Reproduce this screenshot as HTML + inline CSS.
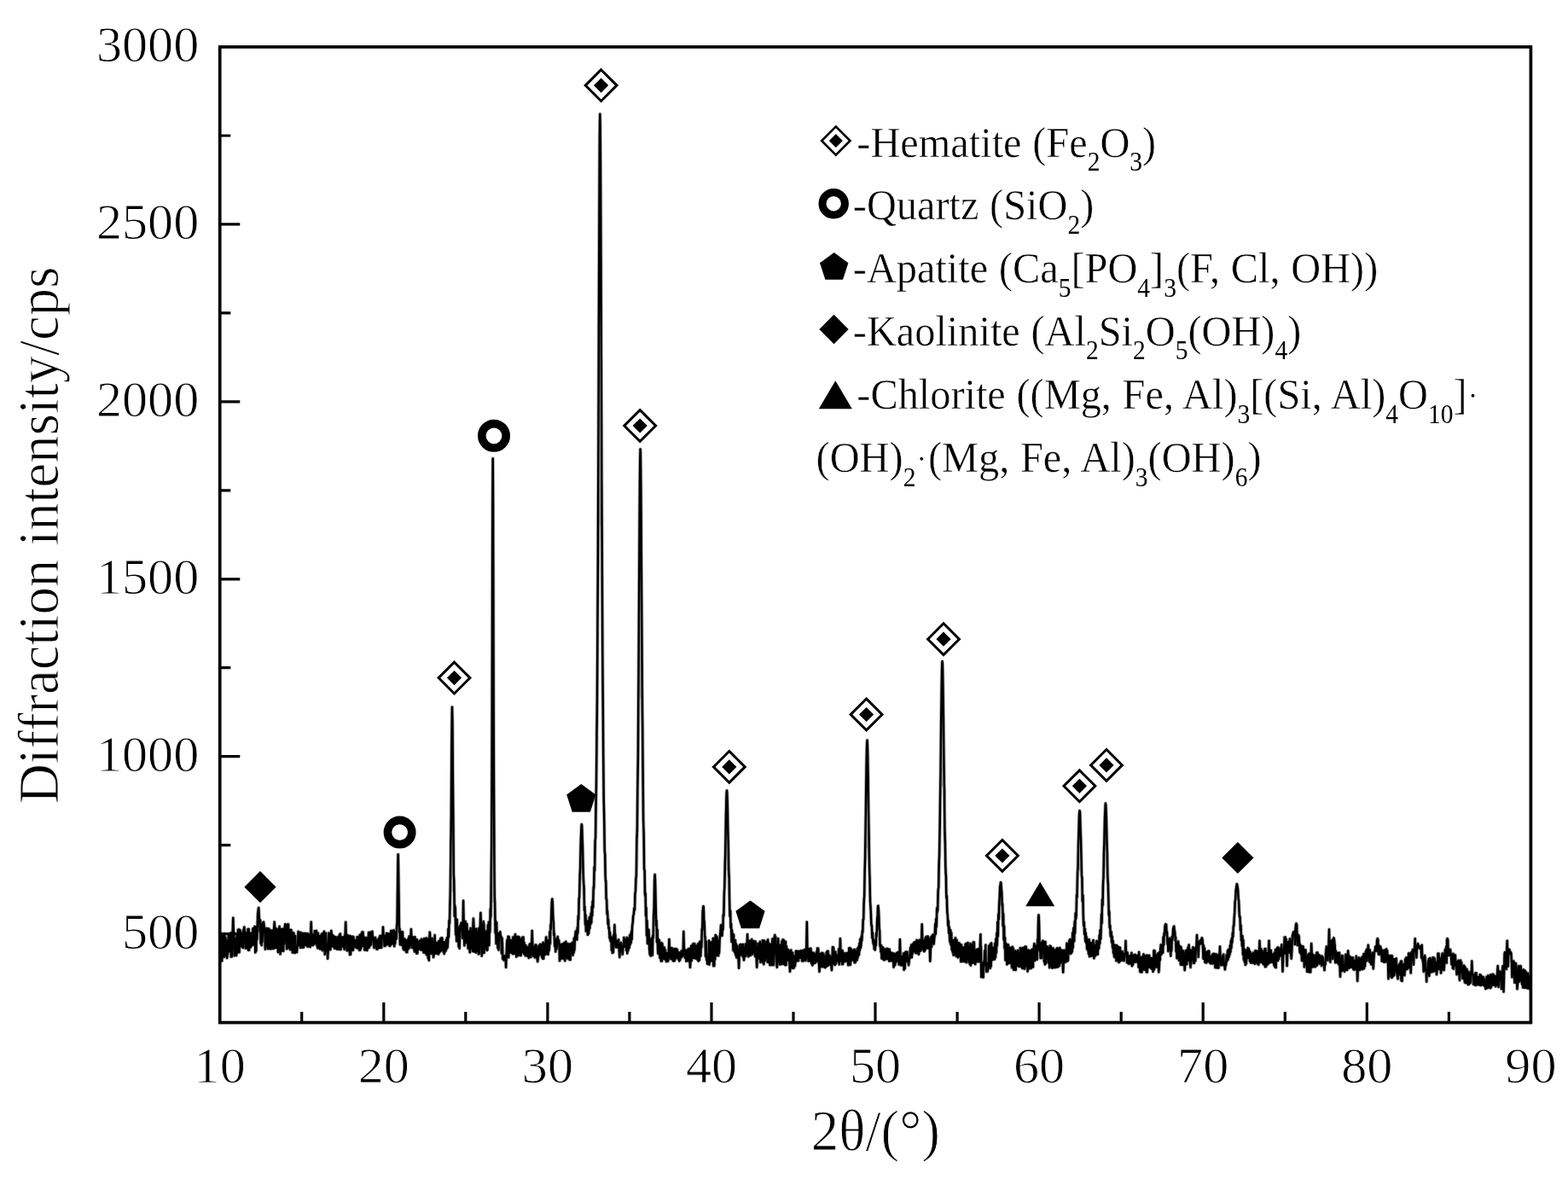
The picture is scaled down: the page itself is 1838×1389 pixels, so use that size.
<!DOCTYPE html>
<html lang="en">
<head>
<meta charset="utf-8">
<title>XRD pattern</title>
<style>
html,body{margin:0;padding:0;background:#fff;}
body{width:1838px;height:1389px;overflow:hidden;font-family:"Liberation Serif",serif;}
svg{display:block;}
</style>
</head>
<body>
<svg width="1838" height="1389" viewBox="0 0 1838 1389" role="img" aria-label="XRD pattern">
<rect x="0" y="0" width="1838" height="1389" fill="#fff"/>
<defs><filter id="soft" x="0" y="0" width="100%" height="100%" filterUnits="userSpaceOnUse" color-interpolation-filters="sRGB"><feGaussianBlur stdDeviation="0.75"/></filter></defs>
<g filter="url(#soft)">
<rect x="0" y="0" width="1838" height="1389" fill="#fff"/>
<path d="M527.7 1048.3 528.0 1034.7 528.2 1017.3 528.5 995.5 528.7 968.9 529.0 937.7 529.2 903.3 529.5 869.4 529.7 842.2 530.0 829.2 530.2 834.9 530.5 857.2 530.7 889.4 531.0 924.2 531.2 956.9 531.5 985.4 531.7 1009.1 532.0 1028.2 532.2 1043.2Z M575.4 1060.3 575.7 1046.7 575.9 1025.5 576.2 992.7 576.4 943.5 576.7 874.3 576.9 784.9 577.2 682.6 577.4 588.6 577.7 538.9 577.9 561.2 578.2 642.2 578.4 744.7 578.7 840.8 578.9 918.4 579.2 975.3 579.4 1014.1 579.7 1039.3 579.9 1055.6Z M701.0 628.5 701.2 569.9 701.5 506.2 701.8 438.6 702.0 368.9 702.2 300.6 702.5 237.7 702.8 185.6 703.0 149.7 703.2 134.1 703.5 140.8 703.8 169.0 704.0 215.3 704.2 274.5 704.5 341.2 704.8 410.8 705.0 479.5 705.2 545.0 705.5 605.7Z M748.3 824.7 748.6 789.4 748.8 751.0 749.1 710.2 749.3 668.3 749.6 627.1 749.8 589.2 750.1 557.9 750.3 536.2 750.6 526.8 750.8 530.8 751.1 547.9 751.3 575.7 751.6 611.4 751.8 651.6 752.1 693.5 752.3 734.9 752.6 774.4 752.8 811.0Z M849.7 1022.7 850.0 1011.3 850.2 998.9 850.5 985.8 850.7 972.3 851.0 959.1 851.2 946.9 851.5 936.8 851.7 929.8 852.0 926.8 852.2 928.1 852.5 933.6 852.7 942.5 853.0 954.0 853.2 967.0 853.5 980.4 853.7 993.8 854.0 1006.5 854.2 1018.2Z M1014.2 996.9 1014.5 981.6 1014.7 965.0 1015.0 947.3 1015.2 929.1 1015.5 911.3 1015.7 894.9 1016.0 881.3 1016.2 871.9 1016.5 867.8 1016.7 869.6 1017.0 876.9 1017.2 889.0 1017.5 904.5 1017.7 921.9 1018.0 940.0 1018.2 958.0 1018.5 975.1 1018.7 990.9Z M1102.3 925.3 1102.5 905.8 1102.8 885.1 1103.0 863.8 1103.3 842.6 1103.5 822.3 1103.8 804.2 1104.0 789.6 1104.3 779.7 1104.5 775.4 1104.8 777.3 1105.0 785.0 1105.3 797.9 1105.5 814.7 1105.8 834.3 1106.0 855.3 1106.3 876.7 1106.5 897.6 1106.8 917.7Z M1263.3 1021.7 1263.5 1012.3 1263.8 1002.4 1264.0 992.2 1264.3 982.0 1264.5 972.3 1264.8 963.7 1265.0 956.7 1265.3 952.0 1265.5 950.0 1265.8 950.8 1266.0 954.5 1266.3 960.7 1266.5 968.7 1266.8 978.1 1267.0 988.1 1267.3 998.4 1267.5 1008.4 1267.8 1018.0Z M1293.7 1018.5 1294.0 1008.5 1294.2 997.9 1294.5 987.0 1294.7 976.1 1295.0 965.7 1295.2 956.5 1295.5 949.1 1295.7 944.0 1296.0 941.9 1296.2 942.8 1296.5 946.7 1296.7 953.3 1297.0 961.9 1297.2 971.9 1297.5 982.6 1297.7 993.6 1298.0 1004.3 1298.2 1014.5Z" fill="#7d7d7d"/>
<g fill="none" stroke-linejoin="round" stroke-linecap="round">
<path d="M258.2 1122.7 258.7 1098.9 259.2 1126.4 259.7 1094.7 260.2 1126.2 260.7 1097.6 261.1 1097.0 261.6 1121.5 262.1 1099.6 262.6 1121.7 263.1 1094.4 263.6 1118.1 264.0 1116.1 264.5 1098.9 265.0 1120.5 265.5 1118.7 266.1 1122.9 266.6 1118.7 266.9 1102.3 267.4 1116.6 267.9 1094.8 268.4 1114.9 268.9 1095.0 269.4 1114.3 269.8 1114.5 270.3 1093.7 270.8 1121.4 271.3 1093.5 271.8 1121.3 272.3 1096.7 272.7 1092.3 273.3 1075.9 273.8 1092.4 274.2 1092.5 274.7 1120.3 275.2 1099.8 275.6 1101.8 276.1 1119.7 276.6 1100.8 277.1 1119.9 277.6 1097.0 278.1 1116.9 278.5 1114.7 279.0 1089.9 279.5 1116.3 280.0 1089.4 280.5 1116.2 281.0 1089.9 281.4 1108.5 281.9 1090.9 282.4 1108.4 282.9 1093.6 283.4 1109.8 283.9 1097.3 284.3 1098.4 284.8 1111.0 285.3 1090.0 285.7 1090.9 286.3 1086.7 286.8 1090.9 287.2 1095.0 287.7 1111.5 288.2 1095.8 288.7 1111.6 289.2 1093.2 289.7 1106.6 290.1 1110.7 290.6 1089.2 291.1 1113.8 291.6 1089.0 292.1 1113.6 292.6 1093.6 293.0 1105.6 293.5 1093.9 294.0 1110.1 294.5 1093.8 295.0 1108.3 295.5 1094.1 295.8 1102.3 295.9 1105.7 296.1 1099.7 296.4 1088.3 296.7 1098.9 296.9 1107.6 297.3 1092.2 297.6 1096.6 297.9 1107.0 298.2 1093.0 298.4 1086.1 298.5 1088.3 298.8 1092.7 299.1 1105.9 299.3 1116.5 299.7 1093.7 300.0 1098.0 300.3 1114.6 300.6 1096.4 300.8 1086.0 300.9 1090.4 301.2 1101.1 301.5 1094.7 301.7 1086.5 302.1 1074.4 302.2 1070.9 302.4 1070.1 302.7 1067.2 303.0 1064.5 303.2 1064.1 303.6 1072.8 303.9 1077.7 304.2 1078.1 304.5 1087.8 304.6 1092.2 304.8 1087.8 305.1 1078.6 305.4 1093.9 305.6 1105.8 306.0 1086.3 306.3 1093.1 306.6 1107.9 306.9 1091.4 307.1 1083.3 307.2 1089.8 307.5 1103.8 307.8 1092.8 308.0 1081.6 308.4 1084.7 308.7 1083.4 309.0 1080.8 309.3 1083.1 309.6 1085.7 309.9 1091.7 310.4 1093.9 310.9 1112.6 311.4 1092.1 311.9 1109.1 312.4 1088.0 312.9 1106.4 313.3 1091.9 313.8 1111.9 314.3 1088.6 314.8 1112.0 315.3 1088.7 315.8 1105.5 316.2 1095.0 316.7 1112.1 317.2 1090.6 317.7 1112.2 318.2 1090.7 318.7 1109.9 319.1 1095.0 319.6 1111.8 320.1 1090.2 320.6 1111.9 321.1 1089.3 321.7 1080.8 322.2 1089.3 323.0 1110.9 323.5 1088.2 324.0 1110.8 324.5 1093.7 324.9 1108.8 325.4 1089.5 325.9 1116.0 326.4 1089.3 327.0 1090.1 327.6 1085.9 327.9 1111.8 328.1 1090.6 328.5 1118.3 329.0 1112.2 329.8 1089.1 330.3 1110.5 330.7 1090.0 331.2 1114.6 331.7 1088.8 332.2 1114.8 332.7 1088.9 333.2 1106.5 333.8 1087.6 334.3 1083.3 334.9 1087.6 335.6 1093.5 336.1 1112.3 336.5 1105.8 337.0 1083.6 337.5 1110.9 338.0 1083.4 338.5 1110.8 339.0 1090.8 339.4 1093.9 339.9 1112.9 340.4 1090.0 340.9 1113.1 341.4 1090.1 341.9 1108.5 342.3 1093.9 342.8 1116.4 343.3 1093.4 343.8 1116.5 344.3 1093.5 344.8 1111.6 345.2 1098.9 345.7 1116.9 346.2 1097.1 346.7 1115.8 347.3 1110.4 347.9 1116.2 348.4 1110.4 349.1 1107.7 349.6 1091.9 350.1 1107.8 350.6 1095.9 351.0 1107.4 351.5 1093.1 352.0 1110.8 352.5 1092.9 353.0 1110.7 353.5 1097.6 353.9 1109.4 354.4 1094.0 354.9 1110.6 355.4 1093.9 355.9 1110.5 356.4 1098.1 356.8 1105.1 357.3 1094.1 357.8 1107.9 358.3 1094.0 358.8 1107.8 359.3 1095.3 359.7 1097.0 360.2 1109.4 360.7 1094.2 361.2 1109.5 361.7 1096.8 362.2 1108.0 362.6 1108.0 363.1 1094.9 363.6 1110.0 364.1 1096.3 364.7 1080.8 365.2 1096.3 365.5 1097.5 366.0 1108.0 366.5 1095.3 367.0 1108.0 367.5 1097.1 368.0 1106.8 368.4 1105.1 368.9 1091.3 369.4 1105.8 369.9 1092.4 370.4 1106.3 370.9 1091.0 371.3 1108.2 371.8 1093.8 372.3 1111.3 372.8 1093.7 373.3 1111.2 373.8 1097.6 374.2 1109.6 374.7 1097.2 375.2 1112.4 375.7 1097.3 376.2 1112.2 376.7 1095.6 377.1 1107.1 377.6 1094.3 378.1 1114.1 378.6 1094.2 379.3 1096.0 379.9 1091.8 380.2 1112.1 380.4 1096.0 380.8 1118.7 381.3 1112.1 382.0 1093.8 382.5 1109.9 382.9 1114.3 383.6 1112.5 384.1 1123.7 384.7 1112.5 385.4 1093.7 385.8 1101.2 386.3 1113.1 386.8 1099.1 387.3 1113.2 387.8 1096.1 388.3 1091.0 388.9 1096.0 389.2 1109.4 389.7 1096.5 390.2 1109.5 390.7 1096.6 391.2 1107.0 391.6 1101.7 392.1 1111.6 392.6 1098.2 393.1 1111.7 393.6 1098.4 394.1 1111.7 394.5 1102.9 395.0 1112.6 395.5 1098.6 396.0 1112.7 396.5 1098.7 397.0 1109.2 397.4 1108.2 397.9 1095.7 398.4 1113.0 398.9 1094.5 399.4 1112.9 399.9 1098.2 400.3 1099.2 400.8 1109.3 401.3 1098.5 401.8 1108.9 402.3 1098.6 402.8 1110.4 403.2 1099.6 403.7 1112.8 404.2 1095.7 404.6 1097.9 405.2 1080.9 405.7 1098.0 406.1 1097.7 406.6 1114.1 407.1 1096.0 407.6 1114.3 408.1 1096.7 408.6 1113.1 409.0 1113.9 409.5 1097.1 410.0 1118.9 410.5 1097.0 411.0 1118.8 411.5 1102.5 411.9 1113.9 412.4 1097.9 412.9 1113.1 413.4 1097.8 413.9 1113.8 414.4 1098.2 414.8 1104.9 415.3 1110.1 415.8 1102.3 416.3 1110.2 416.8 1102.3 417.3 1108.0 417.7 1102.6 418.2 1111.2 418.7 1098.3 419.2 1111.3 419.7 1098.4 420.2 1108.6 420.6 1099.9 421.1 1113.6 421.6 1096.0 422.1 1113.7 422.6 1096.1 423.1 1111.7 423.5 1094.5 424.0 1108.9 424.5 1092.6 425.0 1109.0 425.5 1092.7 426.0 1107.0 426.4 1108.7 426.9 1098.5 427.4 1113.5 427.9 1100.5 428.4 1113.4 428.9 1099.4 429.3 1111.5 429.8 1099.2 430.3 1113.9 430.8 1101.6 431.3 1111.4 431.8 1099.3 432.2 1093.1 432.7 1110.7 433.2 1093.1 433.7 1108.5 434.2 1092.8 434.7 1107.6 435.1 1107.5 435.8 1100.1 436.4 1091.8 436.9 1100.0 437.6 1099.5 438.0 1102.0 438.5 1110.9 439.0 1098.9 439.5 1109.5 440.0 1099.0 440.5 1107.0 440.9 1102.6 441.4 1112.5 441.9 1101.9 442.4 1112.6 442.9 1101.5 443.4 1109.7 443.8 1110.9 444.3 1099.4 444.8 1110.9 445.3 1097.2 445.8 1110.8 446.3 1096.8 446.7 1096.9 447.2 1110.7 447.7 1097.4 448.5 1097.9 449.0 1086.7 449.6 1097.9 450.1 1098.5 450.6 1108.8 451.1 1096.9 451.6 1108.7 452.1 1098.5 452.5 1102.7 453.0 1094.0 453.5 1107.2 454.0 1094.0 454.5 1105.7 455.0 1094.6 455.4 1106.5 455.9 1094.6 456.4 1108.7 456.9 1096.4 457.4 1108.7 457.9 1097.2 458.3 1091.2 458.8 1106.4 459.3 1091.0 459.8 1106.5 460.3 1091.1 460.8 1106.1 461.2 1104.7 461.7 1090.4 462.2 1109.1 462.5 1099.4 462.7 1092.8 463.1 1106.3 463.4 1101.2 463.7 1092.5 464.0 1094.5 464.1 1095.3 464.3 1097.2 464.6 1100.4 464.9 1092.5 465.1 1085.0 465.5 1082.2 465.8 1062.6 466.1 1037.5 466.4 1012.9 466.6 1004.4 466.7 1001.6 467.0 1015.9 467.3 1039.1 467.5 1052.0 467.9 1086.3 468.2 1093.4 468.5 1088.6 468.8 1100.9 469.0 1107.1 469.1 1104.5 469.4 1097.4 469.7 1094.3 469.9 1092.4 470.3 1103.7 470.4 1107.5 470.6 1102.0 470.9 1092.3 471.4 1108.1 471.9 1092.4 472.4 1107.2 472.8 1112.7 473.3 1100.7 473.8 1113.4 474.3 1100.6 474.8 1113.3 475.3 1101.8 475.7 1105.4 476.2 1116.0 476.7 1102.4 477.2 1116.1 477.7 1101.9 478.2 1112.7 478.6 1100.5 479.1 1111.0 479.6 1097.5 480.1 1111.1 480.6 1097.6 481.1 1107.1 481.4 1100.4 481.9 1089.2 482.5 1100.4 483.0 1110.7 483.5 1098.3 484.0 1108.6 484.4 1100.9 484.9 1112.2 485.4 1098.6 485.9 1115.4 486.4 1098.3 486.9 1112.3 487.3 1115.3 487.8 1102.2 488.3 1117.5 488.8 1101.3 489.3 1117.4 489.8 1104.6 490.2 1105.4 490.7 1112.6 491.2 1103.5 491.7 1112.7 492.2 1102.4 492.7 1109.9 493.1 1102.2 493.6 1113.5 494.1 1100.7 494.6 1113.6 495.1 1101.9 495.6 1112.2 496.0 1102.7 496.5 1116.5 497.0 1100.3 497.5 1116.6 498.0 1100.4 498.5 1112.9 498.9 1117.1 499.4 1099.7 499.9 1119.1 500.4 1099.7 500.9 1119.0 501.4 1100.7 501.8 1123.3 502.3 1102.4 502.8 1125.6 503.3 1101.3 503.8 1092.7 504.4 1101.4 504.7 1100.9 505.2 1117.8 505.7 1101.5 506.2 1117.5 506.7 1099.9 507.2 1116.1 507.6 1116.9 508.1 1122.1 508.7 1116.9 509.1 1118.3 509.6 1096.2 510.1 1115.1 510.5 1105.3 511.0 1117.6 511.5 1106.5 512.0 1117.7 512.5 1104.8 513.0 1117.5 513.4 1107.9 513.9 1118.4 514.4 1103.0 514.9 1116.6 515.4 1103.1 515.9 1115.3 516.3 1100.2 516.8 1114.7 517.3 1099.4 517.8 1113.5 518.3 1099.5 518.8 1109.5 519.2 1104.7 519.7 1115.5 520.2 1104.3 520.7 1117.9 521.2 1104.4 521.7 1115.5 522.0 1109.9 522.1 1107.1 522.3 1109.4 522.6 1114.5 522.9 1108.1 523.1 1101.6 523.5 1112.2 523.8 1109.0 524.1 1099.1 524.4 1106.4 524.6 1110.7 524.7 1108.8 525.0 1103.9 525.3 1095.9 525.5 1088.7 525.9 1095.8 526.0 1098.1 526.2 1091.5 526.5 1079.0 526.8 1081.1 527.0 1082.1 527.4 1063.0 527.7 1051.2 527.9 1039.3 528.3 1006.0 528.4 989.9 528.6 980.4 528.9 953.1 529.2 906.3 529.4 874.5 529.8 837.1 530.0 828.8 530.4 846.0 530.7 885.9 530.8 909.6 531.0 926.9 531.3 958.4 531.6 996.7 531.8 1026.0 532.2 1031.2 532.5 1049.1 532.8 1073.9 533.1 1066.8 533.3 1061.5 533.4 1062.7 533.7 1065.0 534.0 1080.5 534.2 1095.5 534.6 1082.0 534.7 1077.0 534.9 1086.6 535.2 1103.2 535.5 1088.3 535.7 1077.9 536.1 1097.1 536.4 1101.4 536.6 1102.1 537.0 1091.2 537.1 1086.7 537.3 1094.4 537.6 1109.5 537.9 1098.1 538.1 1088.2 538.6 1111.7 539.1 1090.8 539.5 1084.8 540.0 1086.8 540.6 1081.8 541.1 1086.8 541.5 1083.6 542.0 1099.6 542.6 1086.1 543.1 1055.7 543.7 1085.9 544.4 1108.3 545.1 1084.7 545.6 1080.1 546.2 1084.6 546.8 1105.1 547.3 1083.0 547.8 1101.2 548.2 1093.5 548.7 1111.6 549.2 1091.6 549.7 1111.8 550.2 1110.2 550.8 1116.3 551.3 1110.1 551.6 1088.0 552.1 1107.5 552.6 1091.9 553.1 1111.7 553.6 1093.5 554.0 1115.1 554.4 1087.1 554.9 1076.7 555.5 1087.2 556.0 1115.5 556.5 1092.0 556.9 1113.3 557.4 1089.0 557.9 1116.4 558.4 1088.8 558.9 1114.8 559.4 1098.1 559.8 1110.5 560.3 1091.7 560.8 1118.3 561.3 1088.1 561.8 1118.0 562.3 1087.6 562.8 1085.9 563.4 1070.0 563.9 1085.8 564.7 1120.5 565.2 1091.3 565.6 1117.5 566.2 1084.9 566.7 1080.1 567.3 1084.5 567.6 1116.7 568.1 1090.5 568.5 1098.2 568.7 1103.1 569.0 1112.3 569.3 1101.4 569.5 1092.6 569.9 1111.2 570.2 1105.2 570.5 1091.7 570.8 1106.6 571.0 1113.9 571.1 1113.7 571.4 1113.1 571.7 1097.6 571.9 1084.4 572.3 1106.4 572.6 1100.1 572.9 1080.8 573.2 1098.3 573.4 1107.9 573.5 1101.5 573.8 1085.1 574.1 1087.5 574.3 1092.6 574.7 1072.5 574.8 1065.3 575.0 1069.5 575.3 1074.9 575.6 1047.4 575.8 1024.8 576.2 991.7 576.5 919.5 576.8 829.8 577.1 699.5 577.2 643.5 577.4 587.9 577.7 537.4 578.0 588.0 578.2 662.2 578.6 825.3 578.9 916.8 579.2 966.7 579.5 1025.4 579.7 1046.0 579.8 1052.1 580.1 1058.7 580.4 1078.6 580.6 1093.5 581.0 1079.5 581.3 1087.6 581.6 1106.1 581.9 1090.2 582.1 1081.2 582.2 1087.0 582.5 1101.3 582.8 1099.3 583.0 1094.4 583.4 1107.1 583.5 1111.3 583.7 1105.2 584.0 1094.3 584.3 1105.8 584.5 1113.5 584.9 1095.6 585.2 1093.5 585.5 1095.1 585.7 1096.2 586.1 1093.4 586.3 1092.3 586.4 1093.5 586.7 1096.2 587.4 1097.9 587.9 1117.3 588.4 1099.3 588.8 1104.7 589.3 1124.0 590.0 1120.4 590.5 1125.4 591.1 1120.4 591.7 1122.0 592.5 1120.2 593.1 1133.8 593.6 1119.9 594.2 1104.9 594.6 1101.5 595.1 1117.5 595.6 1097.8 596.1 1122.2 596.6 1098.0 597.1 1117.0 597.5 1104.9 598.0 1116.3 598.5 1102.0 599.0 1116.4 599.5 1102.1 600.0 1111.9 600.4 1102.0 600.9 1117.9 601.4 1098.4 601.9 1118.0 602.4 1099.0 602.9 1117.8 603.4 1100.3 604.0 1095.2 604.5 1100.2 605.3 1121.5 605.8 1104.5 606.2 1118.4 606.7 1098.1 607.2 1120.0 607.7 1097.9 608.2 1119.3 608.7 1098.5 609.1 1104.8 609.6 1119.9 610.1 1100.7 610.6 1120.0 611.1 1100.8 611.6 1113.3 612.0 1116.2 612.5 1098.7 613.0 1114.2 613.5 1098.6 614.0 1117.4 614.5 1104.9 614.9 1118.6 615.4 1108.2 615.9 1120.3 616.4 1108.2 616.9 1118.3 617.4 1110.9 617.8 1120.2 618.3 1110.3 618.8 1121.0 619.3 1112.0 619.8 1122.8 620.3 1110.5 620.7 1106.9 621.2 1121.7 621.7 1106.0 622.2 1121.9 622.7 1108.5 623.2 1108.0 623.7 1091.1 624.3 1108.1 624.6 1110.2 625.1 1120.8 625.6 1111.7 626.1 1120.3 626.5 1109.5 627.0 1122.3 627.5 1107.6 628.0 1122.3 628.5 1107.7 629.0 1119.3 629.6 1122.0 630.2 1127.1 630.7 1122.1 631.4 1109.0 631.9 1119.7 632.3 1107.9 632.8 1118.3 633.3 1106.8 633.8 1118.4 634.3 1108.3 634.8 1116.9 635.2 1122.1 635.7 1106.8 636.2 1123.7 636.7 1104.8 637.2 1123.6 637.7 1109.1 638.0 1116.2 638.1 1119.1 638.3 1114.8 638.6 1106.6 638.9 1113.3 639.1 1118.9 639.5 1108.6 639.7 1103.8 639.8 1102.6 640.1 1099.6 640.2 1098.4 640.4 1099.7 640.7 1102.3 641.0 1107.5 641.3 1113.8 641.5 1118.3 641.9 1107.1 642.2 1109.8 642.5 1118.8 642.8 1108.1 643.0 1102.2 643.1 1105.7 643.4 1114.5 643.7 1113.5 643.9 1110.6 644.3 1097.1 644.4 1092.3 644.6 1097.6 644.9 1106.3 645.2 1092.6 645.4 1083.9 645.8 1089.0 646.1 1078.3 646.4 1067.4 646.7 1060.5 646.8 1057.9 647.0 1056.0 647.3 1053.8 647.6 1056.2 647.8 1058.8 648.2 1071.7 648.5 1078.2 648.8 1079.7 649.1 1090.4 649.3 1095.9 649.4 1095.6 649.7 1093.7 650.0 1102.1 650.2 1109.1 650.6 1100.2 650.9 1104.7 651.2 1115.4 651.5 1106.1 651.7 1100.9 651.8 1103.8 652.1 1111.2 652.4 1112.2 652.6 1111.7 653.0 1105.5 653.2 1102.4 653.3 1101.4 653.6 1098.9 653.7 1097.9 653.9 1099.6 654.2 1102.6 654.5 1103.1 654.8 1102.7 655.1 1102.3 655.4 1105.8 655.5 1107.2 655.7 1113.7 656.0 1126.1 656.3 1117.5 656.5 1110.2 656.9 1124.2 657.5 1107.3 658.0 1120.6 658.4 1118.5 658.9 1106.5 659.4 1123.6 659.9 1108.1 660.4 1123.5 660.9 1111.0 661.3 1105.2 661.7 1121.2 662.2 1126.2 662.8 1121.1 663.3 1103.7 663.8 1117.0 664.2 1117.8 664.7 1107.6 665.2 1123.4 665.7 1106.2 666.2 1123.2 666.7 1107.7 667.1 1111.2 667.6 1124.9 668.1 1106.6 668.6 1125.0 668.9 1112.3 669.1 1106.3 669.2 1109.9 669.5 1117.6 669.8 1113.3 670.0 1108.9 670.4 1118.0 670.7 1114.1 671.0 1104.7 671.3 1114.3 671.5 1119.6 671.6 1115.4 671.9 1105.5 672.2 1110.3 672.5 1116.6 672.8 1104.1 672.9 1099.8 673.1 1105.0 673.4 1113.8 673.7 1104.2 673.9 1098.0 674.3 1098.2 674.6 1094.0 674.8 1091.7 675.2 1094.2 675.4 1094.9 675.5 1094.1 675.8 1092.4 676.1 1097.7 676.3 1101.5 676.7 1087.5 677.0 1088.6 677.3 1093.7 677.6 1080.1 677.8 1073.6 677.9 1075.0 678.2 1077.8 678.5 1064.5 678.7 1053.0 679.1 1052.4 679.4 1040.9 679.7 1025.7 680.0 1020.6 680.2 1016.6 680.3 1009.1 680.6 993.2 680.9 983.5 681.2 977.0 681.5 969.2 681.6 967.6 681.8 966.3 682.1 967.9 682.4 975.5 682.6 983.0 683.0 994.0 683.3 1008.2 683.6 1023.1 683.9 1031.0 684.1 1033.2 684.2 1035.9 684.5 1039.2 684.8 1055.1 685.0 1066.9 685.4 1062.7 685.7 1071.4 686.0 1083.6 686.3 1076.2 686.5 1072.5 686.6 1078.7 686.9 1091.4 687.2 1085.8 687.4 1079.6 687.8 1091.0 688.1 1088.2 688.4 1079.4 688.6 1085.7 688.7 1090.4 688.9 1095.7 689.0 1091.8 689.2 1086.4 689.3 1081.6 689.5 1083.0 689.6 1087.5 689.8 1092.5 689.9 1094.5 690.1 1093.0 690.2 1091.7 690.3 1090.5 690.5 1085.0 690.7 1080.0 690.8 1075.6 691.0 1079.8 691.1 1083.7 691.3 1088.1 691.4 1084.9 691.6 1079.3 691.7 1074.3 691.9 1074.1 692.0 1077.7 692.2 1081.9 692.3 1083.1 692.5 1078.5 692.6 1074.4 692.8 1070.4 692.9 1074.3 693.1 1078.2 693.2 1081.5 693.4 1076.1 693.5 1070.0 693.7 1062.9 693.8 1064.0 694.0 1069.0 694.1 1073.4 694.3 1072.4 694.4 1065.1 694.6 1056.7 694.9 1056.0 695.2 1063.7 695.5 1048.8 695.7 1039.7 695.8 1040.2 696.1 1041.1 696.4 1029.0 696.6 1016.2 697.0 1019.7 697.1 1020.6 697.3 1008.4 697.6 985.8 697.9 983.4 698.1 981.4 698.5 944.9 698.8 929.2 699.0 917.2 699.4 876.8 699.5 858.3 699.7 844.6 700.0 814.9 700.3 763.8 700.5 723.5 700.9 655.9 701.2 586.4 701.5 512.6 701.8 426.8 701.9 382.6 702.1 345.5 702.4 268.5 702.7 198.6 702.9 159.4 703.3 133.7 703.6 147.8 703.9 190.1 704.2 257.0 704.4 304.5 704.5 337.0 704.8 420.1 705.1 504.5 705.3 569.5 705.7 647.0 705.8 671.7 706.0 708.1 706.3 767.3 706.6 808.1 706.8 829.9 707.2 884.2 707.5 915.8 707.7 939.1 708.1 953.2 708.2 958.4 708.4 971.8 708.7 996.8 709.0 1000.3 709.2 1000.3 709.6 1026.5 709.9 1032.7 710.2 1032.3 710.5 1046.7 710.6 1053.6 710.8 1054.0 711.1 1054.2 711.4 1063.4 711.6 1071.4 712.0 1067.8 712.3 1073.2 712.6 1083.1 712.9 1080.1 713.1 1078.1 713.2 1081.1 713.5 1088.2 713.8 1088.5 714.0 1087.3 714.4 1096.3 714.5 1099.4 714.7 1097.1 715.0 1092.9 715.3 1098.9 715.5 1102.9 715.9 1099.2 716.2 1098.3 716.4 1098.0 716.8 1109.1 716.9 1113.7 717.1 1109.0 717.4 1099.6 717.7 1109.0 717.9 1116.9 718.4 1100.7 718.9 1116.3 719.3 1096.1 719.8 1101.3 720.4 1084.2 720.9 1101.3 721.3 1095.4 721.8 1110.2 722.2 1104.7 722.7 1110.4 723.2 1102.7 723.7 1110.4 724.2 1102.7 724.7 1109.8 725.1 1101.4 725.8 1113.2 726.3 1122.0 726.9 1113.1 727.6 1107.2 728.0 1105.0 728.5 1111.4 729.1 1112.4 729.7 1118.7 730.2 1112.4 730.9 1108.6 731.4 1098.9 731.9 1109.8 732.4 1100.9 732.9 1109.4 733.4 1101.7 733.8 1104.1 734.3 1114.1 734.8 1098.9 735.3 1117.4 735.8 1099.8 736.3 1114.3 736.7 1111.4 737.1 1103.0 737.2 1100.1 737.4 1104.1 737.7 1111.0 738.0 1102.2 738.2 1096.4 738.6 1107.4 738.9 1102.8 739.2 1095.0 739.5 1102.2 739.6 1105.1 739.8 1100.5 740.1 1091.8 740.4 1096.8 740.6 1101.1 741.0 1087.4 741.3 1083.5 741.6 1082.3 741.7 1081.8 741.9 1078.9 742.2 1073.7 742.5 1072.5 742.8 1072.4 743.1 1068.7 743.4 1064.5 743.7 1064.4 744.0 1066.5 744.3 1053.8 744.5 1046.5 744.6 1046.3 744.9 1045.7 745.2 1038.0 745.4 1029.9 745.8 1027.3 745.9 1025.4 746.1 1011.0 746.4 983.8 746.7 977.6 746.9 972.6 747.3 928.3 747.6 906.0 747.9 886.0 748.2 841.5 748.3 821.5 748.5 797.1 748.8 748.5 749.1 702.0 749.3 668.2 749.7 602.6 750.0 563.1 750.3 538.5 750.6 526.5 750.8 529.2 750.9 535.9 751.2 562.8 751.5 604.6 751.7 643.2 752.1 699.5 752.4 749.8 752.7 800.9 753.0 835.7 753.2 851.6 753.3 868.9 753.6 906.9 753.9 938.9 754.1 961.0 754.5 973.7 754.6 976.9 754.8 992.9 755.1 1018.2 755.4 1020.1 755.6 1020.0 756.0 1047.5 756.3 1050.1 756.6 1047.1 756.9 1065.9 757.0 1073.3 757.2 1070.3 757.5 1063.9 757.8 1082.4 758.0 1096.5 758.4 1078.9 758.7 1088.4 759.0 1105.9 759.3 1096.8 759.5 1092.2 759.6 1094.0 759.9 1097.7 760.2 1093.5 760.4 1089.8 760.7 1097.8 761.0 1106.8 761.2 1112.1 761.3 1113.6 761.6 1117.2 761.7 1118.7 761.9 1117.7 762.2 1115.7 762.5 1117.5 762.8 1120.5 763.1 1109.7 763.3 1100.2 763.5 1108.5 763.7 1118.1 764.0 1113.8 764.3 1099.2 764.6 1112.6 764.8 1119.6 764.9 1113.2 765.2 1096.5 765.5 1096.7 765.7 1099.2 766.1 1079.0 766.2 1071.9 766.4 1070.7 766.7 1063.5 767.0 1042.7 767.2 1032.5 767.6 1025.2 767.9 1031.2 768.2 1039.1 768.5 1053.8 768.6 1059.4 768.8 1068.3 769.1 1085.1 769.4 1083.0 769.6 1078.8 770.0 1104.2 770.3 1101.4 770.6 1089.8 770.9 1105.0 771.1 1112.3 771.2 1114.1 771.5 1117.9 771.8 1109.1 772.0 1101.1 772.4 1117.3 772.7 1114.3 773.0 1102.6 773.3 1115.7 773.5 1122.9 773.6 1118.8 773.9 1108.4 774.2 1108.7 774.4 1110.9 774.8 1122.6 774.9 1126.4 775.4 1105.2 775.9 1126.5 776.4 1106.2 776.9 1120.1 777.3 1122.0 777.8 1111.2 778.3 1123.9 778.8 1110.6 779.3 1123.8 779.8 1113.4 780.2 1125.1 780.7 1116.4 781.2 1127.1 781.7 1117.3 782.2 1126.5 782.7 1119.6 783.1 1126.6 783.9 1113.6 784.4 1101.1 785.0 1113.6 785.6 1115.0 786.0 1123.9 786.5 1111.3 787.0 1124.0 787.5 1111.2 788.0 1123.9 788.5 1114.7 788.9 1126.1 789.4 1112.4 789.9 1126.5 790.4 1112.3 790.9 1126.0 791.4 1112.7 791.8 1112.1 792.3 1123.5 792.8 1112.3 793.3 1122.8 793.8 1113.0 794.3 1121.0 794.7 1118.4 795.2 1124.5 795.7 1116.3 796.2 1126.4 796.7 1117.6 797.2 1125.1 797.6 1117.0 798.1 1122.5 798.6 1114.7 799.1 1121.4 799.6 1114.7 800.1 1121.3 800.8 1113.5 801.3 1091.9 801.9 1113.7 802.5 1112.8 803.0 1122.8 803.4 1121.8 803.9 1114.4 804.4 1126.6 804.9 1113.8 805.4 1126.2 805.9 1113.8 806.3 1126.2 806.8 1112.4 807.3 1126.2 807.8 1112.0 808.4 1124.6 809.0 1133.8 809.5 1124.7 810.2 1108.8 810.7 1126.1 811.2 1108.9 811.7 1122.3 812.1 1106.7 812.6 1122.8 813.1 1106.1 813.6 1122.9 814.1 1106.2 814.6 1117.2 815.0 1108.7 815.5 1123.4 816.0 1108.2 816.3 1117.3 816.5 1123.4 816.9 1110.1 817.2 1113.1 817.5 1119.4 817.8 1123.7 817.9 1125.5 818.1 1118.8 818.4 1106.1 818.7 1117.3 818.9 1126.5 819.3 1108.4 819.6 1113.3 819.9 1125.2 820.2 1110.8 820.4 1103.7 820.5 1104.8 820.8 1107.2 821.1 1114.8 821.3 1120.6 821.7 1104.7 822.0 1104.3 822.3 1110.5 822.6 1096.4 822.8 1089.1 822.9 1090.2 823.2 1090.4 823.5 1077.5 823.7 1067.9 824.1 1065.4 824.2 1064.0 824.4 1062.3 824.7 1062.7 825.0 1070.8 825.2 1079.3 825.6 1079.7 825.9 1087.6 826.2 1098.8 826.5 1098.6 826.6 1097.9 826.8 1106.1 827.1 1120.9 827.4 1111.4 827.6 1103.2 828.0 1122.1 828.3 1125.2 828.6 1123.3 828.9 1126.3 829.2 1129.9 829.5 1126.9 829.7 1124.5 830.1 1125.0 830.4 1125.4 830.7 1116.4 831.0 1102.5 831.3 1120.6 831.5 1130.6 831.6 1123.6 831.9 1106.0 832.2 1113.7 832.4 1124.8 832.8 1109.7 832.9 1104.6 833.4 1126.5 833.9 1104.5 834.4 1126.4 834.9 1112.1 835.3 1126.3 835.8 1100.1 836.3 1132.3 836.8 1099.8 837.3 1132.1 837.8 1105.4 838.2 1124.5 838.7 1096.1 839.1 1120.2 839.4 1110.6 839.5 1101.5 839.7 1100.1 840.0 1097.5 840.3 1098.3 840.6 1100.3 840.9 1111.2 841.1 1120.0 841.5 1107.9 841.8 1110.9 842.1 1120.3 842.4 1109.1 842.6 1102.9 842.7 1107.1 843.0 1116.9 843.3 1109.7 843.6 1100.9 843.9 1098.3 844.0 1097.4 844.2 1095.5 844.5 1092.1 844.8 1088.3 845.1 1084.3 845.4 1084.9 845.7 1086.0 846.0 1090.7 846.3 1095.0 846.5 1096.8 846.6 1093.8 846.9 1087.9 847.2 1089.0 847.4 1089.9 847.8 1073.0 848.1 1071.3 848.4 1073.6 848.7 1055.7 848.9 1047.2 849.0 1045.4 849.3 1040.5 849.6 1026.2 849.8 1014.4 850.2 1002.2 850.5 983.5 850.8 963.5 851.1 951.6 851.3 945.1 851.4 938.8 851.7 928.9 852.0 926.7 852.3 929.5 852.6 938.9 852.7 943.1 852.9 952.3 853.2 970.6 853.5 982.4 853.7 988.5 854.1 1015.4 854.4 1025.1 854.7 1028.4 855.0 1050.6 855.2 1059.7 855.3 1065.2 855.6 1074.2 855.9 1070.9 856.1 1067.5 856.5 1086.7 856.8 1087.5 857.1 1082.9 857.4 1097.4 857.6 1103.9 857.7 1099.7 858.0 1090.3 858.3 1097.0 858.5 1103.5 858.9 1094.6 859.2 1100.9 859.5 1114.0 859.8 1102.1 860.0 1095.6 860.1 1101.2 860.4 1114.4 860.7 1109.7 861.0 1102.8 861.3 1113.3 861.4 1116.8 861.6 1111.4 861.9 1102.2 862.2 1112.8 862.4 1119.6 862.8 1106.3 863.1 1112.8 863.4 1122.4 863.7 1112.5 863.9 1108.4 864.0 1108.5 864.3 1108.6 864.6 1116.0 864.8 1121.5 865.5 1120.8 866.1 1134.7 866.6 1120.8 867.2 1107.5 867.7 1119.2 868.2 1107.1 868.7 1119.3 869.2 1107.2 869.7 1115.6 870.1 1109.9 870.6 1121.0 871.1 1106.9 871.4 1120.8 872.0 1125.4 872.5 1121.0 873.0 1110.5 873.5 1120.6 874.0 1106.5 874.5 1120.6 875.0 1109.4 875.6 1108.1 876.1 1095.2 876.7 1108.0 877.4 1121.3 878.1 1107.9 878.7 1102.8 879.2 1107.8 879.8 1120.0 880.3 1106.7 880.6 1103.3 881.2 1101.1 881.8 1103.2 882.2 1118.5 882.7 1103.3 883.2 1116.1 883.7 1103.2 884.2 1113.7 884.6 1103.6 885.1 1120.9 885.6 1103.6 886.1 1121.0 886.6 1121.4 887.2 1133.8 887.7 1121.4 888.0 1123.1 888.5 1106.1 889.0 1122.8 889.5 1106.2 890.0 1120.8 890.4 1124.4 890.9 1103.8 891.4 1128.0 891.9 1107.4 892.4 1123.6 892.9 1109.5 893.3 1126.2 893.8 1102.3 894.3 1128.3 894.8 1105.1 895.3 1130.2 895.8 1102.6 896.2 1108.0 896.7 1125.9 897.2 1104.6 897.7 1122.5 898.2 1104.8 898.7 1120.3 899.1 1103.3 899.6 1127.7 900.1 1101.4 900.6 1127.9 901.1 1105.3 901.6 1122.2 902.0 1112.4 902.5 1131.1 903.0 1106.8 903.5 1131.2 904.0 1107.9 904.5 1130.4 904.9 1124.6 905.4 1100.6 905.9 1131.2 906.4 1100.5 906.9 1131.0 907.6 1100.5 908.2 1096.0 908.7 1100.5 909.3 1098.4 909.8 1119.1 910.2 1128.7 910.8 1133.8 911.3 1128.8 911.7 1126.7 912.2 1100.2 912.7 1123.5 913.2 1107.2 913.6 1108.7 914.1 1130.4 914.6 1107.9 915.1 1130.5 915.6 1109.4 916.1 1125.5 916.5 1103.4 917.0 1129.7 917.5 1101.6 918.0 1129.9 918.5 1101.8 919.0 1127.4 919.4 1124.5 919.9 1103.8 920.4 1131.3 920.9 1103.7 921.4 1131.1 921.9 1109.1 922.3 1124.7 922.8 1113.1 923.3 1125.7 923.8 1113.0 924.3 1125.6 924.8 1114.2 925.4 1128.1 926.0 1138.8 926.5 1128.3 927.2 1113.7 927.7 1127.0 928.1 1116.9 928.6 1134.6 929.1 1116.8 929.6 1134.8 930.1 1120.2 930.6 1134.6 931.3 1126.7 931.9 1132.2 932.4 1126.7 933.0 1114.8 933.5 1126.5 933.9 1124.8 934.4 1115.1 934.9 1126.2 935.4 1115.0 935.9 1126.2 936.4 1115.1 936.8 1115.4 937.3 1122.7 937.8 1115.0 938.3 1122.8 938.8 1114.4 939.3 1120.9 939.7 1118.3 940.2 1126.3 940.7 1114.2 941.2 1126.4 941.7 1114.6 942.2 1123.7 942.6 1124.4 943.1 1113.0 943.6 1125.9 944.1 1112.9 944.6 1125.8 945.2 1114.4 945.8 1080.8 946.4 1114.4 947.0 1112.3 947.5 1126.5 948.0 1117.6 948.4 1112.7 948.9 1126.4 949.4 1111.8 949.9 1126.5 950.4 1111.9 950.9 1125.1 951.3 1129.4 951.8 1116.8 952.3 1131.4 952.8 1116.7 953.3 1129.7 953.8 1117.0 954.2 1118.8 954.7 1127.8 955.2 1118.5 955.7 1128.7 956.2 1118.6 956.7 1126.4 957.1 1115.9 957.6 1127.1 958.1 1111.6 958.6 1127.1 959.1 1111.7 959.6 1122.1 960.0 1129.2 960.5 1138.9 961.1 1129.2 961.5 1118.1 962.0 1127.3 962.5 1120.1 962.9 1133.1 963.4 1116.9 963.9 1133.2 964.4 1117.2 964.9 1133.1 965.4 1118.1 965.8 1124.5 966.3 1133.4 966.8 1120.9 967.3 1134.2 967.8 1123.3 968.3 1133.1 968.7 1116.6 969.2 1132.4 969.7 1115.0 970.2 1131.1 970.7 1115.1 971.2 1131.5 971.6 1130.7 972.1 1119.6 972.6 1130.8 973.1 1120.7 973.6 1130.8 974.3 1128.9 974.9 1137.2 975.4 1128.7 976.0 1110.2 976.5 1128.8 977.0 1110.5 977.4 1117.0 977.9 1130.0 978.4 1115.7 978.9 1130.9 979.4 1115.8 979.9 1129.3 980.3 1119.6 980.8 1126.9 981.3 1119.6 981.8 1127.0 982.3 1119.6 982.8 1126.9 983.2 1112.4 983.7 1130.4 984.4 1116.5 984.9 1100.2 985.5 1116.6 986.1 1126.6 986.6 1115.8 987.1 1130.3 987.6 1114.2 988.1 1129.9 988.6 1116.7 989.0 1123.7 989.5 1117.4 990.0 1127.1 990.5 1119.0 991.0 1127.0 991.5 1117.5 991.9 1126.5 992.4 1117.2 992.9 1126.5 993.4 1117.1 993.7 1125.7 994.3 1131.3 994.8 1125.8 995.3 1111.4 995.8 1128.3 996.3 1111.2 996.8 1131.0 997.3 1111.9 997.7 1116.7 998.2 1125.9 998.7 1115.4 999.2 1124.7 999.7 1113.7 1000.2 1125.2 1000.6 1123.0 1001.1 1113.2 1001.6 1128.3 1002.1 1113.1 1002.6 1128.2 1003.1 1117.8 1003.5 1123.1 1003.9 1115.4 1004.2 1118.2 1004.5 1125.5 1004.8 1116.8 1005.0 1112.0 1005.1 1115.2 1005.4 1122.7 1005.7 1117.2 1006.0 1110.6 1006.3 1110.0 1006.4 1109.8 1006.6 1113.4 1006.9 1119.4 1007.2 1111.2 1007.4 1105.8 1007.8 1114.2 1008.1 1108.6 1008.4 1100.8 1008.7 1108.1 1008.9 1111.0 1009.0 1110.0 1009.3 1107.9 1009.6 1101.9 1009.8 1097.6 1010.2 1102.7 1010.5 1098.4 1010.8 1091.2 1011.1 1092.3 1011.3 1092.6 1011.4 1088.0 1011.7 1077.9 1012.0 1077.5 1012.2 1077.8 1012.6 1059.4 1012.9 1053.0 1013.2 1050.5 1013.5 1030.4 1013.7 1019.1 1013.8 1015.8 1014.1 1005.7 1014.4 984.4 1014.7 965.3 1015.0 943.7 1015.1 935.9 1015.3 921.6 1015.6 899.6 1015.9 883.4 1016.1 875.5 1016.5 867.7 1016.8 872.6 1017.1 883.4 1017.4 903.1 1017.6 912.1 1017.7 924.0 1018.0 947.1 1018.3 966.3 1018.5 977.7 1018.9 1006.2 1019.2 1020.5 1019.5 1029.1 1019.8 1047.4 1020.0 1055.2 1020.1 1057.9 1020.4 1061.9 1020.7 1067.5 1020.9 1071.2 1021.3 1082.7 1021.6 1085.5 1021.9 1084.8 1022.2 1094.4 1022.4 1099.4 1022.5 1097.6 1022.8 1093.2 1023.1 1097.7 1023.4 1104.2 1023.7 1105.9 1023.8 1106.6 1024.0 1104.9 1024.3 1101.6 1024.6 1107.6 1024.8 1112.3 1025.2 1105.4 1025.5 1108.0 1025.8 1113.4 1026.1 1108.6 1026.3 1106.0 1026.4 1106.8 1026.7 1108.2 1027.0 1100.8 1027.2 1093.8 1027.6 1097.4 1027.9 1089.4 1028.2 1078.3 1028.5 1074.9 1028.7 1072.4 1028.8 1068.9 1029.1 1063.1 1029.4 1061.8 1029.6 1063.6 1030.0 1068.2 1030.3 1075.7 1030.6 1087.5 1030.9 1090.3 1031.1 1090.3 1031.5 1107.7 1031.8 1109.7 1032.1 1107.7 1032.4 1113.6 1032.5 1115.8 1032.7 1113.3 1033.0 1108.2 1033.3 1116.8 1033.5 1123.4 1033.9 1113.1 1034.2 1116.4 1034.5 1123.7 1034.8 1115.0 1035.0 1110.6 1035.1 1111.6 1035.4 1113.5 1035.7 1119.9 1035.9 1125.1 1036.4 1112.2 1036.9 1125.2 1037.4 1113.3 1037.9 1124.0 1038.3 1115.5 1038.8 1122.7 1039.3 1112.0 1039.8 1124.2 1040.3 1112.0 1040.8 1120.5 1041.2 1123.7 1041.7 1112.8 1042.2 1126.5 1042.7 1112.8 1043.2 1126.4 1043.7 1116.1 1044.1 1122.8 1044.6 1116.9 1045.1 1126.2 1045.6 1116.9 1046.1 1124.7 1046.6 1117.4 1047.0 1119.2 1047.5 1133.7 1048.0 1117.8 1048.5 1128.1 1049.1 1131.3 1049.6 1128.0 1049.9 1118.5 1050.4 1126.8 1050.9 1117.1 1051.4 1127.1 1051.8 1120.1 1052.4 1116.3 1052.9 1120.0 1053.3 1119.6 1053.8 1130.6 1054.4 1120.4 1054.9 1101.2 1055.5 1120.2 1056.2 1131.5 1056.7 1120.9 1057.2 1131.5 1057.7 1121.0 1058.2 1128.9 1058.6 1130.8 1059.1 1117.5 1059.6 1136.8 1060.1 1117.5 1060.6 1135.4 1061.1 1118.1 1061.5 1115.9 1062.0 1124.8 1062.5 1115.8 1063.0 1127.0 1063.5 1115.9 1064.0 1125.0 1064.5 1125.4 1065.1 1131.3 1065.7 1125.4 1066.4 1122.9 1066.9 1114.3 1067.3 1110.4 1067.8 1122.2 1068.3 1107.5 1068.8 1122.2 1069.3 1108.2 1069.8 1117.8 1070.2 1106.5 1070.7 1114.3 1071.2 1104.9 1071.7 1115.1 1072.2 1104.3 1072.7 1113.4 1073.1 1116.9 1073.6 1104.5 1074.1 1117.0 1074.6 1101.9 1075.1 1117.0 1075.6 1103.8 1076.0 1102.9 1076.4 1113.6 1076.9 1118.7 1077.5 1113.5 1078.0 1101.7 1078.5 1113.2 1078.9 1104.4 1079.4 1114.4 1080.2 1103.0 1080.7 1083.4 1081.3 1103.1 1081.8 1104.0 1082.3 1113.6 1082.8 1102.2 1083.3 1115.2 1083.8 1102.3 1084.3 1114.0 1084.7 1099.5 1085.2 1110.5 1085.7 1097.9 1086.2 1111.4 1086.7 1097.9 1087.2 1110.4 1087.6 1097.5 1088.1 1111.5 1088.6 1099.2 1089.1 1111.6 1089.8 1111.6 1090.0 1117.6 1090.3 1126.6 1090.6 1120.5 1090.9 1110.7 1091.2 1104.0 1091.5 1098.1 1091.8 1106.3 1092.0 1110.0 1092.1 1105.8 1092.4 1097.2 1092.7 1100.2 1093.0 1103.4 1093.3 1095.7 1093.6 1097.0 1093.9 1102.0 1094.1 1104.1 1094.2 1105.0 1094.5 1106.5 1094.8 1104.1 1095.1 1100.3 1095.4 1098.3 1095.7 1096.3 1096.0 1090.8 1096.3 1083.0 1096.6 1090.3 1096.8 1094.7 1096.9 1090.0 1097.2 1077.2 1097.5 1080.2 1097.8 1086.3 1098.1 1070.4 1098.3 1064.3 1098.4 1066.0 1098.7 1069.1 1099.0 1067.0 1099.2 1065.1 1099.6 1045.6 1099.9 1041.5 1100.2 1040.9 1100.5 1020.6 1100.7 1010.8 1100.8 1008.5 1101.1 1002.5 1101.4 983.3 1101.7 967.4 1102.0 941.5 1102.3 922.0 1102.6 903.0 1102.9 872.0 1103.1 855.9 1103.2 846.0 1103.5 823.7 1103.8 801.2 1104.1 787.2 1104.4 776.6 1104.6 775.3 1104.7 776.3 1105.0 784.2 1105.3 801.8 1105.5 816.0 1105.6 824.0 1105.9 844.0 1106.2 872.6 1106.5 899.8 1106.8 919.4 1107.0 925.2 1107.1 942.1 1107.4 972.5 1107.7 983.5 1107.9 987.9 1108.3 1015.6 1108.6 1024.1 1108.9 1026.7 1109.2 1045.0 1109.4 1052.8 1109.5 1052.2 1109.8 1050.0 1110.1 1061.2 1110.4 1070.2 1110.7 1071.3 1111.0 1077.3 1111.3 1085.1 1111.6 1081.5 1111.8 1079.4 1111.9 1083.8 1112.2 1093.7 1112.5 1091.0 1112.8 1086.7 1113.1 1097.7 1113.4 1102.6 1113.7 1104.6 1114.0 1095.7 1114.2 1090.3 1114.6 1107.4 1114.9 1102.3 1115.2 1093.6 1115.5 1107.8 1115.7 1113.1 1115.8 1109.3 1116.1 1102.0 1116.4 1109.9 1116.6 1115.8 1117.0 1102.4 1117.3 1108.4 1117.6 1119.4 1117.9 1107.5 1118.1 1102.1 1118.2 1107.8 1118.5 1119.5 1118.8 1115.0 1119.1 1108.4 1119.3 1104.4 1119.9 1099.4 1120.4 1104.5 1121.0 1121.0 1121.5 1101.9 1122.0 1115.0 1122.4 1107.9 1122.9 1122.3 1123.4 1105.3 1123.9 1119.4 1124.4 1105.4 1124.9 1120.9 1125.3 1121.3 1125.8 1107.3 1126.3 1127.1 1126.8 1107.3 1127.3 1126.9 1127.8 1112.6 1128.2 1125.9 1128.7 1110.3 1129.2 1127.0 1129.7 1110.8 1130.2 1126.9 1130.7 1113.1 1131.1 1127.2 1131.6 1106.8 1132.1 1126.5 1132.6 1106.0 1133.1 1128.1 1133.6 1107.0 1134.0 1124.4 1134.5 1105.0 1135.0 1124.1 1135.5 1109.4 1136.0 1128.0 1136.5 1111.5 1136.9 1130.3 1137.4 1105.9 1137.9 1131.6 1138.4 1106.9 1138.9 1128.4 1139.4 1108.6 1139.8 1112.0 1140.3 1128.4 1140.8 1104.4 1141.3 1128.5 1141.8 1104.6 1142.3 1121.1 1142.7 1116.7 1143.2 1130.1 1143.7 1114.5 1144.2 1126.9 1144.7 1113.0 1145.2 1126.1 1145.6 1127.2 1146.1 1112.6 1146.6 1126.3 1147.1 1112.5 1147.6 1127.3 1148.1 1117.0 1148.8 1108.8 1149.4 1095.3 1149.7 1128.1 1149.9 1109.2 1150.3 1145.2 1150.8 1128.5 1151.5 1128.8 1152.0 1128.6 1152.6 1145.6 1153.1 1128.5 1153.9 1124.7 1154.3 1114.3 1154.8 1130.7 1155.3 1107.7 1155.6 1128.8 1156.2 1138.9 1156.7 1128.8 1157.1 1129.3 1157.4 1133.8 1157.7 1138.6 1158.0 1133.1 1158.2 1129.0 1158.6 1128.4 1158.7 1128.2 1158.9 1121.1 1159.2 1108.5 1159.5 1117.7 1159.7 1124.5 1160.1 1117.7 1160.4 1124.9 1160.6 1135.0 1161.0 1115.1 1161.1 1106.2 1161.3 1115.0 1161.6 1132.6 1161.9 1118.3 1162.1 1105.5 1162.5 1119.8 1162.8 1118.2 1163.0 1110.9 1163.4 1120.4 1163.5 1125.2 1163.7 1120.7 1164.0 1110.4 1164.3 1116.6 1164.5 1123.7 1164.9 1111.6 1165.2 1111.8 1165.5 1118.1 1165.8 1122.1 1165.9 1124.4 1166.4 1105.8 1166.7 1112.4 1166.9 1122.1 1167.3 1106.4 1167.4 1100.5 1167.6 1106.3 1167.9 1116.6 1168.2 1103.4 1168.4 1093.8 1168.8 1108.4 1169.1 1097.1 1169.3 1080.7 1169.7 1093.1 1169.8 1097.4 1170.0 1088.2 1170.3 1071.5 1170.6 1075.2 1170.8 1077.6 1171.2 1060.9 1171.5 1055.4 1171.7 1052.1 1172.1 1042.6 1172.2 1039.0 1172.4 1038.3 1172.7 1036.6 1173.0 1034.3 1173.2 1034.3 1173.6 1038.6 1173.9 1042.8 1174.2 1045.3 1174.5 1054.7 1174.6 1061.2 1175.1 1059.3 1175.4 1070.8 1175.6 1085.2 1176.0 1075.8 1176.1 1071.2 1176.3 1081.4 1176.6 1101.5 1176.9 1093.1 1177.1 1085.6 1177.5 1111.2 1177.8 1108.5 1178.0 1099.0 1178.4 1117.5 1178.5 1125.6 1178.7 1118.9 1179.0 1105.5 1179.3 1116.0 1179.5 1125.2 1179.9 1114.3 1180.2 1119.5 1180.4 1130.5 1180.8 1115.0 1180.9 1107.2 1181.1 1113.9 1181.4 1129.5 1181.7 1119.1 1181.9 1107.4 1182.3 1128.7 1182.6 1127.8 1182.9 1115.4 1183.2 1114.8 1183.3 1114.4 1183.5 1118.5 1183.8 1128.7 1184.1 1121.1 1184.3 1110.8 1184.7 1123.6 1184.8 1128.3 1185.0 1122.5 1185.3 1112.1 1185.6 1122.0 1185.8 1129.3 1186.2 1134.3 1186.5 1123.6 1186.7 1109.8 1187.1 1124.8 1187.2 1131.6 1187.4 1124.8 1187.7 1111.4 1188.0 1125.0 1188.2 1136.8 1188.6 1118.0 1188.9 1116.2 1189.1 1120.4 1189.6 1136.6 1190.1 1114.4 1190.6 1137.0 1191.1 1118.5 1191.6 1132.2 1192.0 1115.8 1192.5 1130.5 1193.0 1114.0 1193.5 1131.8 1194.0 1117.6 1194.5 1133.0 1194.9 1117.5 1195.4 1131.2 1195.9 1111.2 1196.4 1132.9 1196.9 1112.1 1197.4 1129.9 1197.8 1116.8 1198.3 1135.0 1198.8 1110.9 1199.3 1135.1 1199.8 1111.1 1200.3 1127.4 1200.7 1116.3 1201.2 1135.6 1201.7 1109.6 1202.2 1132.8 1202.7 1109.8 1203.2 1129.3 1203.6 1131.7 1204.1 1114.0 1204.6 1138.6 1205.1 1113.5 1205.6 1135.8 1206.1 1114.0 1206.5 1134.0 1207.0 1114.5 1207.5 1134.8 1208.0 1114.4 1208.5 1135.1 1209.0 1115.5 1209.4 1113.1 1209.9 1133.5 1210.4 1112.8 1210.9 1133.6 1211.4 1113.9 1211.8 1111.2 1212.4 1106.2 1212.7 1108.8 1213.0 1111.0 1213.3 1125.9 1213.6 1115.6 1213.8 1108.6 1214.2 1123.0 1214.5 1118.7 1214.8 1110.7 1215.1 1110.5 1215.2 1110.4 1215.4 1115.5 1215.7 1124.7 1216.0 1112.3 1216.2 1101.2 1216.6 1105.1 1216.9 1089.6 1217.2 1075.7 1217.5 1072.5 1217.7 1074.6 1217.8 1077.7 1218.1 1085.0 1218.4 1100.4 1218.6 1114.5 1219.0 1105.6 1219.3 1110.9 1219.6 1123.0 1219.9 1111.6 1220.1 1105.1 1220.2 1108.8 1220.5 1118.1 1220.8 1121.4 1221.0 1122.9 1221.4 1107.7 1221.7 1104.2 1222.0 1107.1 1222.3 1104.6 1222.5 1102.8 1223.1 1107.2 1223.5 1106.2 1223.9 1127.2 1224.4 1104.0 1224.9 1130.5 1225.4 1103.9 1225.9 1129.3 1226.4 1111.1 1227.0 1113.7 1227.6 1109.5 1228.1 1113.7 1228.8 1128.4 1229.3 1117.8 1229.7 1111.5 1230.2 1134.3 1230.7 1108.7 1231.2 1132.4 1231.7 1109.3 1232.2 1126.1 1232.6 1116.7 1233.1 1134.4 1233.6 1111.4 1234.1 1134.5 1234.6 1111.5 1235.1 1128.8 1235.5 1130.6 1236.0 1115.0 1236.5 1134.1 1237.0 1113.5 1237.5 1133.9 1238.0 1116.2 1238.4 1129.1 1238.9 1111.5 1239.4 1133.4 1239.9 1111.4 1240.4 1133.3 1240.9 1116.0 1241.3 1117.8 1241.8 1132.0 1242.3 1111.1 1242.8 1129.0 1243.3 1113.2 1243.8 1126.1 1244.2 1116.9 1244.7 1127.0 1245.2 1114.0 1245.6 1127.2 1246.2 1139.7 1246.7 1127.4 1247.1 1125.9 1247.6 1113.7 1248.1 1127.9 1248.6 1115.4 1249.1 1127.8 1249.6 1118.6 1249.9 1120.3 1250.2 1114.5 1250.5 1105.7 1250.8 1119.4 1251.0 1126.7 1251.1 1120.8 1251.4 1107.2 1251.7 1115.7 1252.0 1125.8 1252.3 1114.7 1252.5 1111.1 1252.6 1113.2 1252.9 1116.8 1253.2 1107.9 1253.4 1102.6 1253.8 1116.9 1254.1 1110.5 1254.4 1101.1 1254.7 1113.4 1254.9 1118.0 1255.0 1113.9 1255.3 1106.1 1255.6 1112.4 1255.8 1117.1 1256.2 1101.8 1256.5 1106.1 1256.8 1115.5 1257.1 1100.3 1257.3 1093.3 1257.4 1099.1 1257.7 1110.8 1258.0 1099.8 1258.3 1089.6 1258.6 1087.5 1258.9 1093.7 1259.2 1103.2 1259.5 1088.3 1259.7 1080.2 1259.8 1084.4 1260.1 1093.7 1260.4 1082.6 1260.7 1070.6 1261.0 1075.5 1261.2 1077.0 1261.3 1075.6 1261.6 1072.7 1261.9 1057.8 1262.1 1048.9 1262.2 1050.0 1262.5 1051.7 1262.8 1037.0 1263.1 1021.9 1263.4 1018.8 1263.6 1016.2 1263.7 1007.0 1264.0 990.6 1264.3 981.2 1264.5 974.9 1264.9 959.0 1265.2 952.9 1265.5 950.3 1265.8 951.3 1266.0 953.2 1266.1 956.7 1266.4 967.1 1266.7 977.2 1267.0 984.5 1267.3 997.1 1267.6 1010.5 1267.9 1025.4 1268.2 1028.4 1268.4 1028.7 1268.5 1036.8 1268.8 1056.5 1269.1 1055.5 1269.4 1049.4 1269.7 1068.5 1270.0 1078.6 1270.3 1084.9 1270.6 1082.5 1270.8 1080.8 1270.9 1084.8 1271.2 1095.1 1271.5 1093.4 1271.8 1088.9 1272.1 1099.5 1272.3 1103.4 1272.4 1100.1 1272.7 1093.8 1273.0 1100.3 1273.2 1105.2 1273.6 1098.3 1273.9 1103.7 1274.2 1112.2 1274.5 1104.8 1274.7 1101.4 1274.8 1105.6 1275.1 1114.0 1275.4 1108.7 1275.7 1103.6 1276.0 1117.9 1276.3 1113.2 1276.6 1101.2 1276.9 1114.2 1277.1 1121.2 1277.2 1116.1 1277.5 1104.4 1277.8 1112.0 1278.1 1120.8 1278.4 1107.9 1278.7 1109.5 1279.0 1119.3 1279.3 1110.5 1279.5 1105.2 1279.6 1109.3 1279.9 1120.5 1280.2 1114.5 1280.5 1105.2 1280.6 1105.8 1280.8 1106.5 1281.0 1107.2 1281.1 1105.9 1281.5 1102.0 1281.8 1104.2 1282.1 1106.7 1282.4 1123.2 1282.7 1114.2 1282.9 1109.2 1283.0 1112.8 1283.3 1121.0 1283.6 1115.0 1283.9 1108.2 1284.2 1116.8 1284.5 1119.5 1284.8 1119.4 1285.1 1109.2 1285.3 1103.1 1285.4 1107.2 1285.7 1118.6 1286.0 1112.7 1286.3 1103.5 1286.6 1114.5 1286.8 1118.6 1286.9 1113.6 1287.2 1104.3 1287.5 1103.9 1287.7 1103.9 1288.1 1111.9 1288.4 1106.0 1288.7 1096.5 1289.0 1103.1 1289.2 1106.1 1289.3 1100.9 1289.6 1090.3 1289.9 1095.6 1290.2 1100.7 1290.5 1092.3 1290.8 1082.5 1291.1 1071.6 1291.4 1078.5 1291.6 1082.0 1291.7 1073.9 1292.0 1054.6 1292.3 1057.2 1292.6 1061.3 1292.9 1040.3 1293.2 1032.7 1293.5 1028.8 1293.8 1009.8 1294.0 998.9 1294.1 996.7 1294.4 989.9 1294.7 973.9 1295.0 960.7 1295.3 952.5 1295.5 949.7 1295.6 945.1 1295.9 941.7 1296.2 943.3 1296.4 947.7 1296.8 957.5 1297.1 970.0 1297.4 984.5 1297.7 995.3 1297.9 999.5 1298.0 1007.8 1298.3 1025.0 1298.6 1033.0 1298.9 1036.7 1299.2 1049.0 1299.5 1060.6 1299.8 1072.6 1300.1 1070.2 1300.3 1068.6 1300.4 1074.4 1300.7 1087.3 1301.0 1087.2 1301.3 1084.8 1301.6 1094.9 1301.9 1097.7 1302.2 1097.0 1302.5 1094.3 1302.7 1092.6 1303.1 1104.5 1303.4 1102.4 1303.7 1097.8 1304.0 1107.3 1304.2 1110.9 1304.3 1108.1 1304.6 1102.8 1304.9 1111.1 1305.1 1117.2 1305.5 1109.6 1305.8 1114.0 1306.1 1121.4 1306.4 1111.9 1306.6 1107.6 1306.7 1112.4 1307.0 1122.2 1307.3 1116.5 1307.6 1110.8 1307.9 1108.4 1308.2 1115.4 1308.5 1126.2 1308.8 1114.4 1309.0 1108.0 1309.1 1113.3 1309.4 1125.4 1309.7 1118.0 1310.0 1109.1 1310.3 1119.2 1310.5 1122.4 1310.6 1117.8 1310.9 1110.2 1311.2 1121.2 1311.4 1127.9 1311.9 1110.6 1312.4 1127.2 1312.9 1110.7 1313.4 1124.3 1313.8 1115.6 1314.3 1125.7 1314.8 1116.8 1315.3 1125.8 1315.8 1115.2 1316.3 1124.6 1316.7 1124.7 1317.2 1118.1 1317.7 1126.2 1318.2 1118.0 1319.0 1117.8 1319.5 1102.9 1320.0 1117.7 1320.6 1116.4 1321.1 1128.5 1321.6 1116.5 1322.1 1127.7 1322.5 1122.2 1323.0 1129.6 1323.5 1120.3 1324.0 1129.6 1324.5 1121.0 1325.0 1127.6 1325.4 1119.9 1325.9 1129.4 1326.4 1116.9 1326.9 1132.2 1327.4 1119.3 1327.9 1131.0 1328.3 1120.9 1328.8 1127.8 1329.3 1120.0 1329.8 1127.9 1330.3 1118.9 1330.8 1125.4 1331.2 1127.5 1331.7 1119.7 1332.2 1127.6 1332.7 1120.2 1333.2 1127.6 1333.7 1119.9 1334.1 1120.5 1334.6 1133.7 1335.1 1116.1 1335.9 1131.2 1336.4 1138.9 1337.0 1131.2 1337.5 1139.4 1338.0 1121.8 1338.5 1139.4 1339.0 1121.9 1339.5 1135.8 1339.9 1134.1 1340.4 1118.5 1340.9 1136.4 1341.4 1119.7 1341.9 1136.7 1342.4 1120.5 1342.8 1133.8 1343.3 1123.4 1343.8 1139.5 1344.3 1119.8 1344.8 1139.4 1345.3 1121.7 1345.7 1133.2 1346.2 1120.0 1346.7 1133.9 1347.2 1119.9 1347.7 1133.8 1348.2 1122.9 1348.6 1133.1 1349.1 1123.2 1349.6 1135.4 1350.1 1123.1 1350.6 1135.3 1351.1 1134.4 1351.6 1138.9 1352.2 1134.2 1352.5 1114.3 1353.0 1136.3 1353.5 1114.4 1354.0 1132.1 1354.4 1128.9 1354.9 1120.4 1355.4 1133.6 1355.9 1119.2 1356.4 1133.6 1356.9 1120.3 1357.3 1117.5 1357.7 1128.4 1358.0 1134.6 1358.3 1139.4 1358.6 1136.2 1358.9 1131.1 1359.2 1116.0 1359.5 1118.4 1359.8 1125.4 1360.1 1116.3 1360.3 1111.5 1360.4 1110.6 1360.7 1108.4 1360.8 1107.4 1361.0 1108.2 1361.3 1109.7 1361.6 1118.5 1361.9 1116.0 1362.2 1108.1 1362.5 1113.5 1362.7 1116.1 1362.8 1116.4 1363.1 1116.7 1363.4 1106.5 1363.6 1098.5 1364.0 1108.0 1364.3 1103.1 1364.6 1094.1 1364.9 1096.3 1365.1 1096.7 1365.2 1093.2 1365.5 1086.6 1365.8 1084.7 1366.0 1083.9 1366.4 1083.3 1366.7 1084.0 1367.0 1083.8 1367.3 1088.7 1367.5 1093.4 1367.9 1092.2 1368.2 1098.0 1368.5 1106.7 1368.8 1103.3 1368.9 1101.2 1369.1 1105.6 1369.4 1115.0 1369.7 1108.4 1369.9 1102.3 1370.3 1103.2 1370.6 1102.0 1370.9 1099.7 1371.2 1101.8 1371.5 1104.5 1371.8 1106.0 1372.1 1113.9 1372.3 1120.4 1372.7 1106.6 1373.0 1107.8 1373.3 1114.3 1373.6 1103.4 1373.8 1098.0 1373.9 1099.5 1374.2 1102.0 1374.5 1099.9 1374.7 1097.3 1375.1 1089.9 1375.2 1088.1 1375.4 1088.2 1375.7 1087.5 1376.0 1085.9 1376.2 1085.8 1376.6 1089.5 1376.9 1091.7 1377.2 1092.2 1377.5 1098.9 1377.6 1102.2 1377.8 1101.5 1378.1 1098.7 1378.4 1107.5 1378.6 1115.2 1379.0 1106.8 1379.3 1112.6 1379.6 1123.2 1379.9 1115.9 1380.1 1112.1 1380.2 1110.7 1380.5 1107.6 1380.8 1105.4 1381.1 1103.5 1381.4 1107.1 1381.6 1109.5 1382.0 1125.7 1382.3 1114.6 1382.5 1108.5 1382.6 1111.8 1382.9 1120.2 1383.2 1117.7 1383.4 1113.5 1383.8 1126.3 1383.9 1130.6 1384.1 1123.1 1384.4 1110.1 1384.7 1122.6 1384.9 1131.0 1385.4 1113.5 1385.9 1125.3 1386.3 1125.7 1386.8 1114.6 1387.3 1131.1 1387.8 1117.6 1388.2 1128.5 1388.7 1137.2 1389.3 1128.6 1389.7 1114.4 1390.2 1130.1 1390.7 1113.8 1391.2 1130.2 1391.7 1117.5 1392.1 1125.1 1392.6 1110.6 1393.1 1125.8 1393.6 1107.5 1394.1 1125.7 1394.6 1112.8 1394.9 1127.1 1395.5 1133.9 1396.0 1127.1 1396.5 1113.7 1397.0 1124.1 1397.5 1113.8 1397.9 1124.9 1398.4 1110.3 1398.9 1128.9 1399.4 1110.9 1399.9 1128.8 1400.4 1114.9 1400.8 1112.0 1401.3 1126.2 1401.8 1111.0 1402.4 1109.0 1403.0 1096.0 1403.5 1108.9 1404.2 1108.8 1404.7 1121.7 1405.2 1109.6 1405.8 1104.4 1406.4 1102.7 1406.9 1104.4 1407.6 1106.3 1408.3 1101.0 1408.9 1099.4 1409.5 1101.1 1410.0 1108.2 1410.5 1123.8 1411.0 1108.3 1411.5 1123.7 1412.0 1111.5 1412.4 1127.8 1412.9 1115.9 1413.4 1128.4 1413.9 1115.8 1414.4 1128.3 1414.9 1118.1 1415.3 1116.4 1415.8 1127.1 1416.3 1114.8 1416.8 1124.8 1417.3 1114.9 1417.8 1126.9 1418.2 1128.6 1418.7 1121.2 1419.2 1129.4 1419.7 1121.2 1420.2 1128.2 1420.7 1122.3 1421.1 1119.0 1421.6 1129.6 1422.1 1118.1 1422.6 1127.5 1423.1 1118.1 1423.6 1128.4 1424.0 1119.3 1424.5 1134.1 1425.0 1118.6 1425.5 1134.2 1426.0 1118.7 1426.5 1131.0 1426.9 1122.1 1427.4 1134.4 1427.9 1119.5 1428.4 1134.5 1428.9 1119.0 1429.4 1121.6 1430.0 1109.5 1430.5 1121.6 1431.3 1131.5 1431.7 1125.5 1432.0 1126.2 1432.3 1130.5 1432.6 1129.6 1432.7 1129.0 1433.2 1120.4 1433.5 1125.0 1433.7 1131.3 1434.1 1122.1 1434.2 1118.7 1434.4 1122.9 1434.7 1130.4 1435.0 1130.5 1435.3 1130.1 1435.4 1130.0 1435.6 1132.3 1435.9 1136.4 1436.2 1134.1 1436.5 1129.6 1436.8 1130.1 1437.1 1131.1 1437.4 1124.6 1437.6 1119.4 1438.0 1126.3 1438.3 1126.7 1438.5 1124.8 1438.9 1117.9 1439.0 1114.4 1439.2 1117.6 1439.5 1124.8 1439.8 1119.2 1440.0 1112.9 1440.4 1121.9 1440.7 1121.0 1441.0 1114.9 1441.3 1117.5 1441.4 1119.1 1441.9 1108.3 1442.2 1111.2 1442.4 1116.0 1442.8 1106.3 1442.9 1102.7 1443.1 1105.8 1443.4 1111.2 1443.7 1104.7 1443.9 1099.9 1444.3 1104.9 1444.6 1100.3 1444.8 1093.7 1445.2 1097.2 1445.3 1098.3 1445.5 1093.8 1445.8 1085.2 1446.1 1085.4 1446.3 1085.7 1446.7 1076.3 1447.0 1072.4 1447.2 1069.9 1447.6 1060.4 1447.7 1056.1 1447.9 1055.7 1448.2 1054.4 1448.5 1047.9 1448.7 1043.1 1449.1 1041.7 1449.4 1038.8 1449.7 1036.7 1449.9 1036.3 1450.1 1036.4 1450.6 1039.5 1450.9 1041.6 1451.1 1042.9 1451.5 1050.1 1451.6 1053.3 1451.8 1054.4 1452.1 1055.7 1452.4 1063.2 1452.6 1068.8 1453.0 1074.6 1453.3 1075.4 1453.5 1074.3 1453.9 1085.1 1454.0 1090.1 1454.2 1088.6 1454.5 1084.6 1454.8 1094.0 1455.0 1102.2 1455.4 1096.6 1455.7 1100.8 1455.9 1108.7 1456.3 1101.2 1456.4 1097.3 1456.6 1103.9 1456.9 1118.6 1457.2 1111.1 1457.4 1101.9 1457.8 1119.5 1457.9 1124.8 1458.1 1120.2 1458.4 1112.6 1458.7 1121.8 1458.8 1127.3 1459.0 1123.6 1459.3 1113.9 1459.6 1121.1 1459.8 1130.9 1460.2 1118.4 1460.3 1113.8 1460.5 1119.3 1460.8 1129.4 1461.1 1123.1 1461.3 1118.4 1461.7 1113.8 1462.0 1117.2 1462.2 1122.5 1462.6 1114.6 1462.7 1111.2 1462.9 1115.1 1463.2 1123.1 1463.5 1117.3 1463.7 1112.1 1464.1 1121.2 1464.4 1119.6 1464.6 1114.3 1465.0 1122.6 1465.1 1126.8 1465.3 1123.5 1465.6 1115.9 1465.9 1121.9 1466.1 1128.5 1466.5 1118.4 1466.8 1120.2 1467.1 1128.3 1467.4 1126.9 1467.5 1126.1 1467.7 1123.8 1468.0 1117.9 1468.5 1128.6 1469.0 1116.7 1469.5 1128.5 1470.0 1120.5 1470.4 1119.7 1470.9 1129.8 1471.4 1114.4 1471.9 1128.4 1472.4 1114.5 1472.9 1128.6 1473.3 1127.2 1473.8 1115.1 1474.3 1130.0 1474.8 1116.7 1475.3 1130.8 1476.0 1116.2 1476.5 1102.8 1477.0 1116.1 1477.7 1128.0 1478.2 1112.2 1478.7 1122.4 1479.1 1125.0 1479.6 1114.6 1480.1 1128.9 1480.6 1116.7 1481.1 1130.4 1481.6 1118.7 1482.0 1130.2 1482.5 1112.2 1483.0 1133.2 1483.5 1112.2 1484.0 1133.0 1484.5 1118.4 1484.9 1117.2 1485.4 1130.8 1485.9 1116.9 1486.4 1130.0 1486.9 1116.2 1487.5 1102.8 1488.0 1116.0 1488.3 1128.4 1488.8 1114.6 1489.3 1125.9 1489.8 1113.9 1490.3 1127.7 1490.7 1120.6 1491.2 1126.9 1491.7 1118.7 1492.2 1128.2 1492.7 1118.2 1493.2 1126.8 1493.6 1131.7 1494.1 1116.4 1494.6 1133.4 1495.1 1113.2 1495.6 1134.1 1496.1 1117.9 1496.5 1112.1 1497.0 1124.0 1497.5 1110.6 1498.0 1125.9 1498.5 1110.7 1499.0 1124.0 1499.4 1113.1 1499.9 1120.3 1500.4 1112.7 1500.9 1120.4 1501.4 1111.1 1501.9 1117.8 1502.3 1107.3 1503.0 1120.2 1503.5 1138.8 1504.1 1120.5 1504.8 1116.8 1505.2 1111.9 1505.7 1098.7 1506.2 1117.4 1506.7 1098.6 1507.2 1117.2 1507.7 1100.9 1508.0 1116.7 1508.6 1132.1 1509.2 1117.0 1509.6 1115.8 1510.1 1104.3 1510.6 1112.3 1511.0 1103.0 1511.5 1116.8 1512.0 1100.4 1512.5 1116.9 1513.1 1115.0 1513.7 1123.7 1514.2 1115.1 1514.9 1097.6 1515.6 1094.3 1516.1 1092.6 1516.7 1094.3 1517.3 1091.9 1517.8 1107.0 1518.3 1092.0 1519.0 1084.2 1519.5 1082.5 1520.1 1084.2 1520.7 1107.9 1521.5 1097.7 1522.0 1096.0 1522.6 1097.7 1523.1 1107.1 1523.6 1116.2 1524.1 1107.2 1524.6 1117.7 1525.1 1108.8 1525.5 1113.7 1526.0 1125.9 1526.5 1109.3 1527.0 1126.0 1527.5 1109.4 1528.0 1120.4 1528.4 1116.4 1528.9 1133.5 1529.4 1113.5 1529.9 1129.9 1530.4 1113.5 1530.9 1128.0 1531.3 1123.1 1531.7 1130.8 1532.2 1138.9 1532.8 1130.6 1533.3 1118.9 1533.8 1127.8 1534.2 1139.3 1534.7 1117.8 1535.2 1139.5 1535.7 1117.6 1536.2 1139.4 1536.7 1119.5 1537.2 1106.1 1537.8 1119.5 1538.1 1133.4 1538.6 1118.3 1539.1 1133.3 1539.6 1119.5 1540.0 1131.7 1540.5 1120.1 1541.0 1133.2 1541.5 1120.0 1542.0 1133.1 1542.5 1121.3 1542.9 1127.4 1543.4 1116.7 1543.9 1131.5 1544.4 1116.6 1544.9 1129.5 1545.4 1119.2 1545.8 1127.3 1546.3 1119.3 1546.8 1129.7 1547.3 1121.2 1547.8 1129.6 1548.3 1120.7 1548.7 1121.6 1549.2 1132.1 1549.7 1120.7 1550.2 1131.0 1550.7 1122.3 1551.2 1129.4 1551.9 1128.4 1552.5 1137.2 1553.0 1128.4 1553.6 1130.8 1554.1 1117.2 1554.4 1114.5 1554.9 1109.5 1555.5 1114.6 1556.0 1112.4 1556.5 1125.8 1557.0 1114.8 1557.4 1109.5 1558.0 1089.4 1558.5 1109.6 1558.9 1105.8 1559.4 1127.7 1559.9 1111.2 1560.3 1104.5 1560.8 1102.7 1561.4 1104.4 1561.8 1101.8 1562.3 1123.9 1562.8 1101.2 1563.4 1099.4 1563.9 1101.1 1564.7 1108.4 1565.2 1128.3 1565.7 1114.3 1566.1 1126.5 1566.6 1116.7 1567.1 1128.3 1567.6 1116.7 1568.1 1128.8 1568.6 1118.5 1569.0 1118.4 1569.5 1130.8 1570.0 1116.8 1570.5 1129.6 1571.0 1144.8 1571.6 1129.5 1571.9 1123.5 1572.4 1138.0 1572.9 1120.2 1573.4 1138.0 1573.9 1120.3 1574.4 1137.2 1574.8 1134.2 1575.5 1133.4 1576.1 1138.9 1576.6 1133.4 1577.3 1118.8 1577.7 1123.9 1578.2 1136.8 1578.7 1119.2 1579.2 1136.9 1579.7 1122.0 1580.2 1114.6 1580.8 1122.0 1581.1 1119.9 1581.6 1134.7 1582.1 1122.1 1582.6 1133.8 1583.1 1121.7 1583.5 1131.5 1584.0 1122.6 1584.5 1134.0 1585.0 1122.5 1585.5 1132.3 1586.0 1122.5 1586.4 1136.1 1586.9 1126.0 1587.4 1136.6 1587.9 1125.9 1588.4 1136.5 1588.9 1126.4 1589.3 1132.4 1589.8 1120.8 1590.3 1135.2 1590.7 1135.3 1591.2 1149.8 1591.8 1135.2 1592.2 1133.9 1592.7 1122.4 1593.2 1137.0 1593.7 1124.3 1594.2 1136.9 1594.7 1125.5 1595.1 1135.6 1595.6 1123.1 1596.1 1133.7 1596.6 1121.7 1597.1 1136.3 1597.6 1125.1 1598.0 1134.6 1598.5 1118.3 1599.0 1135.2 1599.5 1118.2 1600.0 1132.6 1600.5 1122.3 1600.9 1115.3 1601.4 1126.3 1601.9 1112.9 1602.4 1126.3 1602.9 1112.9 1603.3 1115.7 1603.8 1107.8 1604.4 1115.7 1604.8 1113.4 1605.3 1127.4 1605.8 1113.5 1606.3 1124.0 1606.7 1124.6 1607.3 1130.5 1607.8 1124.6 1608.2 1124.3 1608.7 1116.8 1609.2 1124.6 1609.8 1135.5 1610.3 1124.6 1611.1 1115.1 1611.7 1114.6 1612.3 1109.5 1612.8 1114.5 1613.5 1114.8 1614.2 1102.0 1614.8 1100.2 1615.3 1101.9 1615.9 1118.5 1616.4 1108.3 1616.9 1119.0 1617.6 1114.0 1618.2 1109.5 1618.7 1114.0 1619.3 1112.9 1619.8 1126.6 1620.3 1115.1 1620.8 1125.1 1621.2 1123.7 1621.7 1114.3 1622.2 1127.7 1622.7 1113.8 1623.2 1127.8 1623.7 1113.9 1624.1 1117.2 1624.6 1126.9 1625.1 1112.4 1625.6 1126.9 1626.1 1114.4 1626.6 1126.3 1627.0 1127.3 1627.5 1147.3 1628.1 1127.3 1628.5 1120.0 1629.0 1131.9 1629.5 1120.7 1629.9 1126.1 1630.4 1144.7 1630.9 1120.2 1631.4 1146.0 1631.9 1120.4 1632.4 1145.0 1632.8 1127.0 1633.3 1143.2 1633.8 1124.3 1634.3 1143.3 1634.8 1124.5 1635.3 1138.3 1635.7 1124.1 1636.2 1138.2 1636.7 1123.4 1637.2 1140.6 1637.9 1142.9 1638.5 1147.3 1639.0 1142.9 1639.6 1130.9 1640.1 1139.9 1640.6 1129.7 1641.1 1138.7 1641.5 1142.9 1642.0 1126.8 1642.5 1149.2 1643.0 1126.7 1643.5 1150.0 1644.0 1130.3 1644.4 1138.8 1644.9 1132.2 1645.4 1142.5 1645.9 1129.9 1646.4 1143.3 1646.9 1132.0 1647.3 1124.2 1647.8 1136.9 1648.3 1122.5 1648.8 1135.0 1649.3 1122.5 1649.8 1135.7 1650.2 1121.9 1650.7 1134.2 1651.2 1117.4 1651.7 1134.3 1652.2 1117.5 1652.7 1128.7 1653.1 1127.0 1653.7 1140.5 1654.2 1127.1 1654.6 1116.0 1655.1 1125.2 1655.6 1117.9 1656.1 1112.9 1656.7 1118.1 1657.0 1130.7 1657.5 1115.7 1658.1 1113.8 1658.7 1100.3 1659.2 1113.9 1659.9 1109.6 1660.4 1122.4 1660.9 1111.2 1661.5 1107.8 1662.0 1106.1 1662.6 1107.8 1663.3 1110.7 1664.0 1111.7 1664.6 1109.5 1665.1 1111.7 1665.7 1110.0 1666.2 1122.8 1666.7 1107.8 1667.2 1121.5 1667.6 1125.2 1668.3 1128.6 1668.8 1138.9 1669.4 1128.6 1670.1 1119.9 1670.5 1122.2 1671.0 1137.1 1671.7 1137.3 1672.2 1150.6 1672.8 1137.2 1673.4 1140.2 1673.9 1126.6 1674.4 1141.8 1674.9 1124.0 1675.4 1144.0 1675.8 1123.4 1676.4 1123.0 1676.9 1123.6 1677.3 1139.4 1677.8 1125.7 1678.3 1139.3 1678.8 1126.3 1679.2 1137.8 1679.7 1122.3 1680.2 1138.8 1680.7 1122.7 1681.2 1138.3 1681.7 1123.6 1682.1 1129.7 1682.6 1136.8 1683.1 1127.7 1683.5 1136.3 1684.0 1142.3 1684.6 1136.4 1685.0 1132.4 1685.5 1117.7 1686.0 1134.5 1686.5 1117.8 1687.0 1136.0 1687.5 1122.3 1687.9 1130.9 1688.5 1132.2 1689.1 1140.6 1689.6 1132.2 1690.4 1119.8 1690.8 1117.6 1691.3 1136.4 1691.9 1132.0 1692.5 1137.2 1693.0 1131.8 1693.5 1117.3 1694.1 1112.9 1694.6 1117.3 1695.2 1109.8 1695.7 1128.7 1696.1 1101.9 1696.6 1100.2 1697.2 1102.1 1697.6 1120.1 1698.1 1112.3 1698.6 1120.0 1699.1 1113.8 1699.4 1117.3 1700.0 1112.9 1700.5 1117.4 1701.0 1120.7 1701.5 1130.4 1702.0 1120.7 1702.4 1121.2 1702.9 1134.7 1703.4 1117.9 1703.9 1135.6 1704.4 1121.1 1704.9 1131.4 1705.3 1128.2 1705.8 1119.4 1706.3 1129.5 1707.1 1134.4 1707.6 1142.2 1708.2 1134.5 1708.7 1126.8 1709.2 1141.0 1709.7 1125.8 1710.5 1141.8 1711.0 1149.0 1711.5 1141.7 1712.1 1125.7 1712.6 1139.3 1713.1 1127.9 1713.6 1139.1 1714.0 1133.3 1714.5 1147.0 1715.0 1133.4 1715.5 1146.5 1716.0 1131.7 1716.5 1143.3 1716.9 1151.3 1717.4 1133.5 1717.9 1152.1 1718.4 1136.2 1718.9 1152.0 1719.4 1135.9 1719.8 1149.2 1720.3 1139.1 1720.8 1154.0 1721.3 1139.0 1721.8 1153.9 1722.3 1144.2 1722.7 1151.6 1723.2 1141.3 1723.7 1152.2 1724.2 1138.7 1724.8 1141.0 1725.3 1126.5 1725.9 1140.9 1726.6 1142.7 1727.1 1153.7 1727.6 1142.8 1728.1 1151.6 1728.5 1144.8 1729.0 1154.7 1729.5 1140.5 1730.0 1154.8 1730.5 1140.6 1731.0 1151.7 1731.4 1151.1 1731.9 1145.3 1732.4 1154.2 1732.9 1145.3 1733.4 1154.2 1733.9 1148.0 1734.3 1153.6 1734.8 1142.4 1735.3 1154.9 1735.8 1143.1 1736.3 1154.8 1736.8 1144.4 1737.2 1152.4 1737.7 1146.0 1738.2 1154.4 1738.7 1145.2 1739.2 1154.3 1739.7 1147.3 1740.1 1155.6 1740.9 1154.2 1741.4 1159.1 1742.0 1154.2 1742.6 1144.9 1743.0 1158.0 1743.5 1144.6 1744.0 1158.0 1744.5 1143.4 1745.0 1156.9 1745.5 1145.3 1745.9 1153.4 1746.4 1144.2 1746.9 1158.2 1747.4 1142.5 1747.9 1157.3 1748.4 1146.5 1748.8 1144.3 1749.3 1153.2 1749.8 1141.9 1750.3 1154.4 1750.8 1142.4 1751.3 1152.9 1751.7 1144.6 1752.2 1154.7 1752.7 1144.2 1753.2 1156.3 1753.7 1146.5 1754.2 1153.1 1754.6 1154.4 1755.1 1141.3 1755.7 1132.3 1756.2 1141.2 1756.6 1156.8 1757.1 1142.3 1757.5 1138.9 1758.0 1148.1 1758.5 1138.5 1759.0 1148.2 1759.4 1148.8 1760.0 1159.1 1760.5 1148.7 1760.9 1144.7 1761.4 1132.5 1762.0 1144.5 1762.5 1162.4 1763.0 1144.2 1763.6 1117.9 1764.1 1116.2 1764.7 1117.9 1765.3 1121.1 1765.8 1136.0 1766.1 1116.4 1766.7 1102.8 1767.2 1116.7 1767.7 1132.7 1768.2 1119.8 1768.6 1114.5 1769.2 1112.9 1769.7 1114.6 1770.3 1117.9 1770.9 1116.2 1771.4 1117.9 1772.0 1129.4 1772.5 1145.5 1773.0 1126.8 1773.7 1131.4 1774.2 1126.4 1774.8 1131.6 1775.4 1151.7 1775.9 1129.1 1776.4 1151.8 1776.9 1129.2 1777.4 1147.8 1778.0 1150.9 1778.5 1159.2 1779.1 1150.9 1779.8 1132.5 1780.3 1151.0 1780.7 1137.9 1781.2 1150.4 1781.7 1132.4 1782.2 1147.4 1782.7 1132.5 1783.2 1149.5 1783.6 1141.5 1784.1 1153.6 1784.6 1137.9 1785.1 1157.4 1785.6 1136.6 1786.1 1152.3 1786.5 1141.5 1787.0 1157.7 1787.5 1137.5 1788.0 1157.8 1788.5 1139.0 1789.0 1150.8 1789.4 1152.9 1789.9 1140.9 1790.4 1158.4 1790.9 1140.8 1791.4 1158.4 1791.9 1146.1 1792.3 1156.2 1792.8 1145.8 1793.3 1159.2 1793.8 1143.3" stroke="#a8a8a8" stroke-width="4.2"/>
<path d="M258.2 1122.7 258.7 1098.9 259.2 1126.4 259.7 1094.7 260.2 1126.2 260.7 1097.6 261.1 1097.0 261.6 1121.5 262.1 1099.6 262.6 1121.7 263.1 1094.4 263.6 1118.1 264.0 1116.1 264.5 1098.9 265.0 1120.5 265.5 1118.7 266.1 1122.9 266.6 1118.7 266.9 1102.3 267.4 1116.6 267.9 1094.8 268.4 1114.9 268.9 1095.0 269.4 1114.3 269.8 1114.5 270.3 1093.7 270.8 1121.4 271.3 1093.5 271.8 1121.3 272.3 1096.7 272.7 1092.3 273.3 1075.9 273.8 1092.4 274.2 1092.5 274.7 1120.3 275.2 1099.8 275.6 1101.8 276.1 1119.7 276.6 1100.8 277.1 1119.9 277.6 1097.0 278.1 1116.9 278.5 1114.7 279.0 1089.9 279.5 1116.3 280.0 1089.4 280.5 1116.2 281.0 1089.9 281.4 1108.5 281.9 1090.9 282.4 1108.4 282.9 1093.6 283.4 1109.8 283.9 1097.3 284.3 1098.4 284.8 1111.0 285.3 1090.0 285.7 1090.9 286.3 1086.7 286.8 1090.9 287.2 1095.0 287.7 1111.5 288.2 1095.8 288.7 1111.6 289.2 1093.2 289.7 1106.6 290.1 1110.7 290.6 1089.2 291.1 1113.8 291.6 1089.0 292.1 1113.6 292.6 1093.6 293.0 1105.6 293.5 1093.9 294.0 1110.1 294.5 1093.8 295.0 1108.3 295.5 1094.1 295.8 1102.3 295.9 1105.7 296.1 1099.7 296.4 1088.3 296.7 1098.9 296.9 1107.6 297.3 1092.2 297.6 1096.6 297.9 1107.0 298.2 1093.0 298.4 1086.1 298.5 1088.3 298.8 1092.7 299.1 1105.9 299.3 1116.5 299.7 1093.7 300.0 1098.0 300.3 1114.6 300.6 1096.4 300.8 1086.0 300.9 1090.4 301.2 1101.1 301.5 1094.7 301.7 1086.5 302.1 1074.4 302.2 1070.9 302.4 1070.1 302.7 1067.2 303.0 1064.5 303.2 1064.1 303.6 1072.8 303.9 1077.7 304.2 1078.1 304.5 1087.8 304.6 1092.2 304.8 1087.8 305.1 1078.6 305.4 1093.9 305.6 1105.8 306.0 1086.3 306.3 1093.1 306.6 1107.9 306.9 1091.4 307.1 1083.3 307.2 1089.8 307.5 1103.8 307.8 1092.8 308.0 1081.6 308.4 1084.7 308.7 1083.4 309.0 1080.8 309.3 1083.1 309.6 1085.7 309.9 1091.7 310.4 1093.9 310.9 1112.6 311.4 1092.1 311.9 1109.1 312.4 1088.0 312.9 1106.4 313.3 1091.9 313.8 1111.9 314.3 1088.6 314.8 1112.0 315.3 1088.7 315.8 1105.5 316.2 1095.0 316.7 1112.1 317.2 1090.6 317.7 1112.2 318.2 1090.7 318.7 1109.9 319.1 1095.0 319.6 1111.8 320.1 1090.2 320.6 1111.9 321.1 1089.3 321.7 1080.8 322.2 1089.3 323.0 1110.9 323.5 1088.2 324.0 1110.8 324.5 1093.7 324.9 1108.8 325.4 1089.5 325.9 1116.0 326.4 1089.3 327.0 1090.1 327.6 1085.9 327.9 1111.8 328.1 1090.6 328.5 1118.3 329.0 1112.2 329.8 1089.1 330.3 1110.5 330.7 1090.0 331.2 1114.6 331.7 1088.8 332.2 1114.8 332.7 1088.9 333.2 1106.5 333.8 1087.6 334.3 1083.3 334.9 1087.6 335.6 1093.5 336.1 1112.3 336.5 1105.8 337.0 1083.6 337.5 1110.9 338.0 1083.4 338.5 1110.8 339.0 1090.8 339.4 1093.9 339.9 1112.9 340.4 1090.0 340.9 1113.1 341.4 1090.1 341.9 1108.5 342.3 1093.9 342.8 1116.4 343.3 1093.4 343.8 1116.5 344.3 1093.5 344.8 1111.6 345.2 1098.9 345.7 1116.9 346.2 1097.1 346.7 1115.8 347.3 1110.4 347.9 1116.2 348.4 1110.4 349.1 1107.7 349.6 1091.9 350.1 1107.8 350.6 1095.9 351.0 1107.4 351.5 1093.1 352.0 1110.8 352.5 1092.9 353.0 1110.7 353.5 1097.6 353.9 1109.4 354.4 1094.0 354.9 1110.6 355.4 1093.9 355.9 1110.5 356.4 1098.1 356.8 1105.1 357.3 1094.1 357.8 1107.9 358.3 1094.0 358.8 1107.8 359.3 1095.3 359.7 1097.0 360.2 1109.4 360.7 1094.2 361.2 1109.5 361.7 1096.8 362.2 1108.0 362.6 1108.0 363.1 1094.9 363.6 1110.0 364.1 1096.3 364.7 1080.8 365.2 1096.3 365.5 1097.5 366.0 1108.0 366.5 1095.3 367.0 1108.0 367.5 1097.1 368.0 1106.8 368.4 1105.1 368.9 1091.3 369.4 1105.8 369.9 1092.4 370.4 1106.3 370.9 1091.0 371.3 1108.2 371.8 1093.8 372.3 1111.3 372.8 1093.7 373.3 1111.2 373.8 1097.6 374.2 1109.6 374.7 1097.2 375.2 1112.4 375.7 1097.3 376.2 1112.2 376.7 1095.6 377.1 1107.1 377.6 1094.3 378.1 1114.1 378.6 1094.2 379.3 1096.0 379.9 1091.8 380.2 1112.1 380.4 1096.0 380.8 1118.7 381.3 1112.1 382.0 1093.8 382.5 1109.9 382.9 1114.3 383.6 1112.5 384.1 1123.7 384.7 1112.5 385.4 1093.7 385.8 1101.2 386.3 1113.1 386.8 1099.1 387.3 1113.2 387.8 1096.1 388.3 1091.0 388.9 1096.0 389.2 1109.4 389.7 1096.5 390.2 1109.5 390.7 1096.6 391.2 1107.0 391.6 1101.7 392.1 1111.6 392.6 1098.2 393.1 1111.7 393.6 1098.4 394.1 1111.7 394.5 1102.9 395.0 1112.6 395.5 1098.6 396.0 1112.7 396.5 1098.7 397.0 1109.2 397.4 1108.2 397.9 1095.7 398.4 1113.0 398.9 1094.5 399.4 1112.9 399.9 1098.2 400.3 1099.2 400.8 1109.3 401.3 1098.5 401.8 1108.9 402.3 1098.6 402.8 1110.4 403.2 1099.6 403.7 1112.8 404.2 1095.7 404.6 1097.9 405.2 1080.9 405.7 1098.0 406.1 1097.7 406.6 1114.1 407.1 1096.0 407.6 1114.3 408.1 1096.7 408.6 1113.1 409.0 1113.9 409.5 1097.1 410.0 1118.9 410.5 1097.0 411.0 1118.8 411.5 1102.5 411.9 1113.9 412.4 1097.9 412.9 1113.1 413.4 1097.8 413.9 1113.8 414.4 1098.2 414.8 1104.9 415.3 1110.1 415.8 1102.3 416.3 1110.2 416.8 1102.3 417.3 1108.0 417.7 1102.6 418.2 1111.2 418.7 1098.3 419.2 1111.3 419.7 1098.4 420.2 1108.6 420.6 1099.9 421.1 1113.6 421.6 1096.0 422.1 1113.7 422.6 1096.1 423.1 1111.7 423.5 1094.5 424.0 1108.9 424.5 1092.6 425.0 1109.0 425.5 1092.7 426.0 1107.0 426.4 1108.7 426.9 1098.5 427.4 1113.5 427.9 1100.5 428.4 1113.4 428.9 1099.4 429.3 1111.5 429.8 1099.2 430.3 1113.9 430.8 1101.6 431.3 1111.4 431.8 1099.3 432.2 1093.1 432.7 1110.7 433.2 1093.1 433.7 1108.5 434.2 1092.8 434.7 1107.6 435.1 1107.5 435.8 1100.1 436.4 1091.8 436.9 1100.0 437.6 1099.5 438.0 1102.0 438.5 1110.9 439.0 1098.9 439.5 1109.5 440.0 1099.0 440.5 1107.0 440.9 1102.6 441.4 1112.5 441.9 1101.9 442.4 1112.6 442.9 1101.5 443.4 1109.7 443.8 1110.9 444.3 1099.4 444.8 1110.9 445.3 1097.2 445.8 1110.8 446.3 1096.8 446.7 1096.9 447.2 1110.7 447.7 1097.4 448.5 1097.9 449.0 1086.7 449.6 1097.9 450.1 1098.5 450.6 1108.8 451.1 1096.9 451.6 1108.7 452.1 1098.5 452.5 1102.7 453.0 1094.0 453.5 1107.2 454.0 1094.0 454.5 1105.7 455.0 1094.6 455.4 1106.5 455.9 1094.6 456.4 1108.7 456.9 1096.4 457.4 1108.7 457.9 1097.2 458.3 1091.2 458.8 1106.4 459.3 1091.0 459.8 1106.5 460.3 1091.1 460.8 1106.1 461.2 1104.7 461.7 1090.4 462.2 1109.1 462.5 1099.4 462.7 1092.8 463.1 1106.3 463.4 1101.2 463.7 1092.5 464.0 1094.5 464.1 1095.3 464.3 1097.2 464.6 1100.4 464.9 1092.5 465.1 1085.0 465.5 1082.2 465.8 1062.6 466.1 1037.5 466.4 1012.9 466.6 1004.4 466.7 1001.6 467.0 1015.9 467.3 1039.1 467.5 1052.0 467.9 1086.3 468.2 1093.4 468.5 1088.6 468.8 1100.9 469.0 1107.1 469.1 1104.5 469.4 1097.4 469.7 1094.3 469.9 1092.4 470.3 1103.7 470.4 1107.5 470.6 1102.0 470.9 1092.3 471.4 1108.1 471.9 1092.4 472.4 1107.2 472.8 1112.7 473.3 1100.7 473.8 1113.4 474.3 1100.6 474.8 1113.3 475.3 1101.8 475.7 1105.4 476.2 1116.0 476.7 1102.4 477.2 1116.1 477.7 1101.9 478.2 1112.7 478.6 1100.5 479.1 1111.0 479.6 1097.5 480.1 1111.1 480.6 1097.6 481.1 1107.1 481.4 1100.4 481.9 1089.2 482.5 1100.4 483.0 1110.7 483.5 1098.3 484.0 1108.6 484.4 1100.9 484.9 1112.2 485.4 1098.6 485.9 1115.4 486.4 1098.3 486.9 1112.3 487.3 1115.3 487.8 1102.2 488.3 1117.5 488.8 1101.3 489.3 1117.4 489.8 1104.6 490.2 1105.4 490.7 1112.6 491.2 1103.5 491.7 1112.7 492.2 1102.4 492.7 1109.9 493.1 1102.2 493.6 1113.5 494.1 1100.7 494.6 1113.6 495.1 1101.9 495.6 1112.2 496.0 1102.7 496.5 1116.5 497.0 1100.3 497.5 1116.6 498.0 1100.4 498.5 1112.9 498.9 1117.1 499.4 1099.7 499.9 1119.1 500.4 1099.7 500.9 1119.0 501.4 1100.7 501.8 1123.3 502.3 1102.4 502.8 1125.6 503.3 1101.3 503.8 1092.7 504.4 1101.4 504.7 1100.9 505.2 1117.8 505.7 1101.5 506.2 1117.5 506.7 1099.9 507.2 1116.1 507.6 1116.9 508.1 1122.1 508.7 1116.9 509.1 1118.3 509.6 1096.2 510.1 1115.1 510.5 1105.3 511.0 1117.6 511.5 1106.5 512.0 1117.7 512.5 1104.8 513.0 1117.5 513.4 1107.9 513.9 1118.4 514.4 1103.0 514.9 1116.6 515.4 1103.1 515.9 1115.3 516.3 1100.2 516.8 1114.7 517.3 1099.4 517.8 1113.5 518.3 1099.5 518.8 1109.5 519.2 1104.7 519.7 1115.5 520.2 1104.3 520.7 1117.9 521.2 1104.4 521.7 1115.5 522.0 1109.9 522.1 1107.1 522.3 1109.4 522.6 1114.5 522.9 1108.1 523.1 1101.6 523.5 1112.2 523.8 1109.0 524.1 1099.1 524.4 1106.4 524.6 1110.7 524.7 1108.8 525.0 1103.9 525.3 1095.9 525.5 1088.7 525.9 1095.8 526.0 1098.1 526.2 1091.5 526.5 1079.0 526.8 1081.1 527.0 1082.1 527.4 1063.0 527.7 1051.2 527.9 1039.3 528.3 1006.0 528.4 989.9 528.6 980.4 528.9 953.1 529.2 906.3 529.4 874.5 529.8 837.1 530.0 828.8 530.4 846.0 530.7 885.9 530.8 909.6 531.0 926.9 531.3 958.4 531.6 996.7 531.8 1026.0 532.2 1031.2 532.5 1049.1 532.8 1073.9 533.1 1066.8 533.3 1061.5 533.4 1062.7 533.7 1065.0 534.0 1080.5 534.2 1095.5 534.6 1082.0 534.7 1077.0 534.9 1086.6 535.2 1103.2 535.5 1088.3 535.7 1077.9 536.1 1097.1 536.4 1101.4 536.6 1102.1 537.0 1091.2 537.1 1086.7 537.3 1094.4 537.6 1109.5 537.9 1098.1 538.1 1088.2 538.6 1111.7 539.1 1090.8 539.5 1084.8 540.0 1086.8 540.6 1081.8 541.1 1086.8 541.5 1083.6 542.0 1099.6 542.6 1086.1 543.1 1055.7 543.7 1085.9 544.4 1108.3 545.1 1084.7 545.6 1080.1 546.2 1084.6 546.8 1105.1 547.3 1083.0 547.8 1101.2 548.2 1093.5 548.7 1111.6 549.2 1091.6 549.7 1111.8 550.2 1110.2 550.8 1116.3 551.3 1110.1 551.6 1088.0 552.1 1107.5 552.6 1091.9 553.1 1111.7 553.6 1093.5 554.0 1115.1 554.4 1087.1 554.9 1076.7 555.5 1087.2 556.0 1115.5 556.5 1092.0 556.9 1113.3 557.4 1089.0 557.9 1116.4 558.4 1088.8 558.9 1114.8 559.4 1098.1 559.8 1110.5 560.3 1091.7 560.8 1118.3 561.3 1088.1 561.8 1118.0 562.3 1087.6 562.8 1085.9 563.4 1070.0 563.9 1085.8 564.7 1120.5 565.2 1091.3 565.6 1117.5 566.2 1084.9 566.7 1080.1 567.3 1084.5 567.6 1116.7 568.1 1090.5 568.5 1098.2 568.7 1103.1 569.0 1112.3 569.3 1101.4 569.5 1092.6 569.9 1111.2 570.2 1105.2 570.5 1091.7 570.8 1106.6 571.0 1113.9 571.1 1113.7 571.4 1113.1 571.7 1097.6 571.9 1084.4 572.3 1106.4 572.6 1100.1 572.9 1080.8 573.2 1098.3 573.4 1107.9 573.5 1101.5 573.8 1085.1 574.1 1087.5 574.3 1092.6 574.7 1072.5 574.8 1065.3 575.0 1069.5 575.3 1074.9 575.6 1047.4 575.8 1024.8 576.2 991.7 576.5 919.5 576.8 829.8 577.1 699.5 577.2 643.5 577.4 587.9 577.7 537.4 578.0 588.0 578.2 662.2 578.6 825.3 578.9 916.8 579.2 966.7 579.5 1025.4 579.7 1046.0 579.8 1052.1 580.1 1058.7 580.4 1078.6 580.6 1093.5 581.0 1079.5 581.3 1087.6 581.6 1106.1 581.9 1090.2 582.1 1081.2 582.2 1087.0 582.5 1101.3 582.8 1099.3 583.0 1094.4 583.4 1107.1 583.5 1111.3 583.7 1105.2 584.0 1094.3 584.3 1105.8 584.5 1113.5 584.9 1095.6 585.2 1093.5 585.5 1095.1 585.7 1096.2 586.1 1093.4 586.3 1092.3 586.4 1093.5 586.7 1096.2 587.4 1097.9 587.9 1117.3 588.4 1099.3 588.8 1104.7 589.3 1124.0 590.0 1120.4 590.5 1125.4 591.1 1120.4 591.7 1122.0 592.5 1120.2 593.1 1133.8 593.6 1119.9 594.2 1104.9 594.6 1101.5 595.1 1117.5 595.6 1097.8 596.1 1122.2 596.6 1098.0 597.1 1117.0 597.5 1104.9 598.0 1116.3 598.5 1102.0 599.0 1116.4 599.5 1102.1 600.0 1111.9 600.4 1102.0 600.9 1117.9 601.4 1098.4 601.9 1118.0 602.4 1099.0 602.9 1117.8 603.4 1100.3 604.0 1095.2 604.5 1100.2 605.3 1121.5 605.8 1104.5 606.2 1118.4 606.7 1098.1 607.2 1120.0 607.7 1097.9 608.2 1119.3 608.7 1098.5 609.1 1104.8 609.6 1119.9 610.1 1100.7 610.6 1120.0 611.1 1100.8 611.6 1113.3 612.0 1116.2 612.5 1098.7 613.0 1114.2 613.5 1098.6 614.0 1117.4 614.5 1104.9 614.9 1118.6 615.4 1108.2 615.9 1120.3 616.4 1108.2 616.9 1118.3 617.4 1110.9 617.8 1120.2 618.3 1110.3 618.8 1121.0 619.3 1112.0 619.8 1122.8 620.3 1110.5 620.7 1106.9 621.2 1121.7 621.7 1106.0 622.2 1121.9 622.7 1108.5 623.2 1108.0 623.7 1091.1 624.3 1108.1 624.6 1110.2 625.1 1120.8 625.6 1111.7 626.1 1120.3 626.5 1109.5 627.0 1122.3 627.5 1107.6 628.0 1122.3 628.5 1107.7 629.0 1119.3 629.6 1122.0 630.2 1127.1 630.7 1122.1 631.4 1109.0 631.9 1119.7 632.3 1107.9 632.8 1118.3 633.3 1106.8 633.8 1118.4 634.3 1108.3 634.8 1116.9 635.2 1122.1 635.7 1106.8 636.2 1123.7 636.7 1104.8 637.2 1123.6 637.7 1109.1 638.0 1116.2 638.1 1119.1 638.3 1114.8 638.6 1106.6 638.9 1113.3 639.1 1118.9 639.5 1108.6 639.7 1103.8 639.8 1102.6 640.1 1099.6 640.2 1098.4 640.4 1099.7 640.7 1102.3 641.0 1107.5 641.3 1113.8 641.5 1118.3 641.9 1107.1 642.2 1109.8 642.5 1118.8 642.8 1108.1 643.0 1102.2 643.1 1105.7 643.4 1114.5 643.7 1113.5 643.9 1110.6 644.3 1097.1 644.4 1092.3 644.6 1097.6 644.9 1106.3 645.2 1092.6 645.4 1083.9 645.8 1089.0 646.1 1078.3 646.4 1067.4 646.7 1060.5 646.8 1057.9 647.0 1056.0 647.3 1053.8 647.6 1056.2 647.8 1058.8 648.2 1071.7 648.5 1078.2 648.8 1079.7 649.1 1090.4 649.3 1095.9 649.4 1095.6 649.7 1093.7 650.0 1102.1 650.2 1109.1 650.6 1100.2 650.9 1104.7 651.2 1115.4 651.5 1106.1 651.7 1100.9 651.8 1103.8 652.1 1111.2 652.4 1112.2 652.6 1111.7 653.0 1105.5 653.2 1102.4 653.3 1101.4 653.6 1098.9 653.7 1097.9 653.9 1099.6 654.2 1102.6 654.5 1103.1 654.8 1102.7 655.1 1102.3 655.4 1105.8 655.5 1107.2 655.7 1113.7 656.0 1126.1 656.3 1117.5 656.5 1110.2 656.9 1124.2 657.5 1107.3 658.0 1120.6 658.4 1118.5 658.9 1106.5 659.4 1123.6 659.9 1108.1 660.4 1123.5 660.9 1111.0 661.3 1105.2 661.7 1121.2 662.2 1126.2 662.8 1121.1 663.3 1103.7 663.8 1117.0 664.2 1117.8 664.7 1107.6 665.2 1123.4 665.7 1106.2 666.2 1123.2 666.7 1107.7 667.1 1111.2 667.6 1124.9 668.1 1106.6 668.6 1125.0 668.9 1112.3 669.1 1106.3 669.2 1109.9 669.5 1117.6 669.8 1113.3 670.0 1108.9 670.4 1118.0 670.7 1114.1 671.0 1104.7 671.3 1114.3 671.5 1119.6 671.6 1115.4 671.9 1105.5 672.2 1110.3 672.5 1116.6 672.8 1104.1 672.9 1099.8 673.1 1105.0 673.4 1113.8 673.7 1104.2 673.9 1098.0 674.3 1098.2 674.6 1094.0 674.8 1091.7 675.2 1094.2 675.4 1094.9 675.5 1094.1 675.8 1092.4 676.1 1097.7 676.3 1101.5 676.7 1087.5 677.0 1088.6 677.3 1093.7 677.6 1080.1 677.8 1073.6 677.9 1075.0 678.2 1077.8 678.5 1064.5 678.7 1053.0 679.1 1052.4 679.4 1040.9 679.7 1025.7 680.0 1020.6 680.2 1016.6 680.3 1009.1 680.6 993.2 680.9 983.5 681.2 977.0 681.5 969.2 681.6 967.6 681.8 966.3 682.1 967.9 682.4 975.5 682.6 983.0 683.0 994.0 683.3 1008.2 683.6 1023.1 683.9 1031.0 684.1 1033.2 684.2 1035.9 684.5 1039.2 684.8 1055.1 685.0 1066.9 685.4 1062.7 685.7 1071.4 686.0 1083.6 686.3 1076.2 686.5 1072.5 686.6 1078.7 686.9 1091.4 687.2 1085.8 687.4 1079.6 687.8 1091.0 688.1 1088.2 688.4 1079.4 688.6 1085.7 688.7 1090.4 688.9 1095.7 689.0 1091.8 689.2 1086.4 689.3 1081.6 689.5 1083.0 689.6 1087.5 689.8 1092.5 689.9 1094.5 690.1 1093.0 690.2 1091.7 690.3 1090.5 690.5 1085.0 690.7 1080.0 690.8 1075.6 691.0 1079.8 691.1 1083.7 691.3 1088.1 691.4 1084.9 691.6 1079.3 691.7 1074.3 691.9 1074.1 692.0 1077.7 692.2 1081.9 692.3 1083.1 692.5 1078.5 692.6 1074.4 692.8 1070.4 692.9 1074.3 693.1 1078.2 693.2 1081.5 693.4 1076.1 693.5 1070.0 693.7 1062.9 693.8 1064.0 694.0 1069.0 694.1 1073.4 694.3 1072.4 694.4 1065.1 694.6 1056.7 694.9 1056.0 695.2 1063.7 695.5 1048.8 695.7 1039.7 695.8 1040.2 696.1 1041.1 696.4 1029.0 696.6 1016.2 697.0 1019.7 697.1 1020.6 697.3 1008.4 697.6 985.8 697.9 983.4 698.1 981.4 698.5 944.9 698.8 929.2 699.0 917.2 699.4 876.8 699.5 858.3 699.7 844.6 700.0 814.9 700.3 763.8 700.5 723.5 700.9 655.9 701.2 586.4 701.5 512.6 701.8 426.8 701.9 382.6 702.1 345.5 702.4 268.5 702.7 198.6 702.9 159.4 703.3 133.7 703.6 147.8 703.9 190.1 704.2 257.0 704.4 304.5 704.5 337.0 704.8 420.1 705.1 504.5 705.3 569.5 705.7 647.0 705.8 671.7 706.0 708.1 706.3 767.3 706.6 808.1 706.8 829.9 707.2 884.2 707.5 915.8 707.7 939.1 708.1 953.2 708.2 958.4 708.4 971.8 708.7 996.8 709.0 1000.3 709.2 1000.3 709.6 1026.5 709.9 1032.7 710.2 1032.3 710.5 1046.7 710.6 1053.6 710.8 1054.0 711.1 1054.2 711.4 1063.4 711.6 1071.4 712.0 1067.8 712.3 1073.2 712.6 1083.1 712.9 1080.1 713.1 1078.1 713.2 1081.1 713.5 1088.2 713.8 1088.5 714.0 1087.3 714.4 1096.3 714.5 1099.4 714.7 1097.1 715.0 1092.9 715.3 1098.9 715.5 1102.9 715.9 1099.2 716.2 1098.3 716.4 1098.0 716.8 1109.1 716.9 1113.7 717.1 1109.0 717.4 1099.6 717.7 1109.0 717.9 1116.9 718.4 1100.7 718.9 1116.3 719.3 1096.1 719.8 1101.3 720.4 1084.2 720.9 1101.3 721.3 1095.4 721.8 1110.2 722.2 1104.7 722.7 1110.4 723.2 1102.7 723.7 1110.4 724.2 1102.7 724.7 1109.8 725.1 1101.4 725.8 1113.2 726.3 1122.0 726.9 1113.1 727.6 1107.2 728.0 1105.0 728.5 1111.4 729.1 1112.4 729.7 1118.7 730.2 1112.4 730.9 1108.6 731.4 1098.9 731.9 1109.8 732.4 1100.9 732.9 1109.4 733.4 1101.7 733.8 1104.1 734.3 1114.1 734.8 1098.9 735.3 1117.4 735.8 1099.8 736.3 1114.3 736.7 1111.4 737.1 1103.0 737.2 1100.1 737.4 1104.1 737.7 1111.0 738.0 1102.2 738.2 1096.4 738.6 1107.4 738.9 1102.8 739.2 1095.0 739.5 1102.2 739.6 1105.1 739.8 1100.5 740.1 1091.8 740.4 1096.8 740.6 1101.1 741.0 1087.4 741.3 1083.5 741.6 1082.3 741.7 1081.8 741.9 1078.9 742.2 1073.7 742.5 1072.5 742.8 1072.4 743.1 1068.7 743.4 1064.5 743.7 1064.4 744.0 1066.5 744.3 1053.8 744.5 1046.5 744.6 1046.3 744.9 1045.7 745.2 1038.0 745.4 1029.9 745.8 1027.3 745.9 1025.4 746.1 1011.0 746.4 983.8 746.7 977.6 746.9 972.6 747.3 928.3 747.6 906.0 747.9 886.0 748.2 841.5 748.3 821.5 748.5 797.1 748.8 748.5 749.1 702.0 749.3 668.2 749.7 602.6 750.0 563.1 750.3 538.5 750.6 526.5 750.8 529.2 750.9 535.9 751.2 562.8 751.5 604.6 751.7 643.2 752.1 699.5 752.4 749.8 752.7 800.9 753.0 835.7 753.2 851.6 753.3 868.9 753.6 906.9 753.9 938.9 754.1 961.0 754.5 973.7 754.6 976.9 754.8 992.9 755.1 1018.2 755.4 1020.1 755.6 1020.0 756.0 1047.5 756.3 1050.1 756.6 1047.1 756.9 1065.9 757.0 1073.3 757.2 1070.3 757.5 1063.9 757.8 1082.4 758.0 1096.5 758.4 1078.9 758.7 1088.4 759.0 1105.9 759.3 1096.8 759.5 1092.2 759.6 1094.0 759.9 1097.7 760.2 1093.5 760.4 1089.8 760.7 1097.8 761.0 1106.8 761.2 1112.1 761.3 1113.6 761.6 1117.2 761.7 1118.7 761.9 1117.7 762.2 1115.7 762.5 1117.5 762.8 1120.5 763.1 1109.7 763.3 1100.2 763.5 1108.5 763.7 1118.1 764.0 1113.8 764.3 1099.2 764.6 1112.6 764.8 1119.6 764.9 1113.2 765.2 1096.5 765.5 1096.7 765.7 1099.2 766.1 1079.0 766.2 1071.9 766.4 1070.7 766.7 1063.5 767.0 1042.7 767.2 1032.5 767.6 1025.2 767.9 1031.2 768.2 1039.1 768.5 1053.8 768.6 1059.4 768.8 1068.3 769.1 1085.1 769.4 1083.0 769.6 1078.8 770.0 1104.2 770.3 1101.4 770.6 1089.8 770.9 1105.0 771.1 1112.3 771.2 1114.1 771.5 1117.9 771.8 1109.1 772.0 1101.1 772.4 1117.3 772.7 1114.3 773.0 1102.6 773.3 1115.7 773.5 1122.9 773.6 1118.8 773.9 1108.4 774.2 1108.7 774.4 1110.9 774.8 1122.6 774.9 1126.4 775.4 1105.2 775.9 1126.5 776.4 1106.2 776.9 1120.1 777.3 1122.0 777.8 1111.2 778.3 1123.9 778.8 1110.6 779.3 1123.8 779.8 1113.4 780.2 1125.1 780.7 1116.4 781.2 1127.1 781.7 1117.3 782.2 1126.5 782.7 1119.6 783.1 1126.6 783.9 1113.6 784.4 1101.1 785.0 1113.6 785.6 1115.0 786.0 1123.9 786.5 1111.3 787.0 1124.0 787.5 1111.2 788.0 1123.9 788.5 1114.7 788.9 1126.1 789.4 1112.4 789.9 1126.5 790.4 1112.3 790.9 1126.0 791.4 1112.7 791.8 1112.1 792.3 1123.5 792.8 1112.3 793.3 1122.8 793.8 1113.0 794.3 1121.0 794.7 1118.4 795.2 1124.5 795.7 1116.3 796.2 1126.4 796.7 1117.6 797.2 1125.1 797.6 1117.0 798.1 1122.5 798.6 1114.7 799.1 1121.4 799.6 1114.7 800.1 1121.3 800.8 1113.5 801.3 1091.9 801.9 1113.7 802.5 1112.8 803.0 1122.8 803.4 1121.8 803.9 1114.4 804.4 1126.6 804.9 1113.8 805.4 1126.2 805.9 1113.8 806.3 1126.2 806.8 1112.4 807.3 1126.2 807.8 1112.0 808.4 1124.6 809.0 1133.8 809.5 1124.7 810.2 1108.8 810.7 1126.1 811.2 1108.9 811.7 1122.3 812.1 1106.7 812.6 1122.8 813.1 1106.1 813.6 1122.9 814.1 1106.2 814.6 1117.2 815.0 1108.7 815.5 1123.4 816.0 1108.2 816.3 1117.3 816.5 1123.4 816.9 1110.1 817.2 1113.1 817.5 1119.4 817.8 1123.7 817.9 1125.5 818.1 1118.8 818.4 1106.1 818.7 1117.3 818.9 1126.5 819.3 1108.4 819.6 1113.3 819.9 1125.2 820.2 1110.8 820.4 1103.7 820.5 1104.8 820.8 1107.2 821.1 1114.8 821.3 1120.6 821.7 1104.7 822.0 1104.3 822.3 1110.5 822.6 1096.4 822.8 1089.1 822.9 1090.2 823.2 1090.4 823.5 1077.5 823.7 1067.9 824.1 1065.4 824.2 1064.0 824.4 1062.3 824.7 1062.7 825.0 1070.8 825.2 1079.3 825.6 1079.7 825.9 1087.6 826.2 1098.8 826.5 1098.6 826.6 1097.9 826.8 1106.1 827.1 1120.9 827.4 1111.4 827.6 1103.2 828.0 1122.1 828.3 1125.2 828.6 1123.3 828.9 1126.3 829.2 1129.9 829.5 1126.9 829.7 1124.5 830.1 1125.0 830.4 1125.4 830.7 1116.4 831.0 1102.5 831.3 1120.6 831.5 1130.6 831.6 1123.6 831.9 1106.0 832.2 1113.7 832.4 1124.8 832.8 1109.7 832.9 1104.6 833.4 1126.5 833.9 1104.5 834.4 1126.4 834.9 1112.1 835.3 1126.3 835.8 1100.1 836.3 1132.3 836.8 1099.8 837.3 1132.1 837.8 1105.4 838.2 1124.5 838.7 1096.1 839.1 1120.2 839.4 1110.6 839.5 1101.5 839.7 1100.1 840.0 1097.5 840.3 1098.3 840.6 1100.3 840.9 1111.2 841.1 1120.0 841.5 1107.9 841.8 1110.9 842.1 1120.3 842.4 1109.1 842.6 1102.9 842.7 1107.1 843.0 1116.9 843.3 1109.7 843.6 1100.9 843.9 1098.3 844.0 1097.4 844.2 1095.5 844.5 1092.1 844.8 1088.3 845.1 1084.3 845.4 1084.9 845.7 1086.0 846.0 1090.7 846.3 1095.0 846.5 1096.8 846.6 1093.8 846.9 1087.9 847.2 1089.0 847.4 1089.9 847.8 1073.0 848.1 1071.3 848.4 1073.6 848.7 1055.7 848.9 1047.2 849.0 1045.4 849.3 1040.5 849.6 1026.2 849.8 1014.4 850.2 1002.2 850.5 983.5 850.8 963.5 851.1 951.6 851.3 945.1 851.4 938.8 851.7 928.9 852.0 926.7 852.3 929.5 852.6 938.9 852.7 943.1 852.9 952.3 853.2 970.6 853.5 982.4 853.7 988.5 854.1 1015.4 854.4 1025.1 854.7 1028.4 855.0 1050.6 855.2 1059.7 855.3 1065.2 855.6 1074.2 855.9 1070.9 856.1 1067.5 856.5 1086.7 856.8 1087.5 857.1 1082.9 857.4 1097.4 857.6 1103.9 857.7 1099.7 858.0 1090.3 858.3 1097.0 858.5 1103.5 858.9 1094.6 859.2 1100.9 859.5 1114.0 859.8 1102.1 860.0 1095.6 860.1 1101.2 860.4 1114.4 860.7 1109.7 861.0 1102.8 861.3 1113.3 861.4 1116.8 861.6 1111.4 861.9 1102.2 862.2 1112.8 862.4 1119.6 862.8 1106.3 863.1 1112.8 863.4 1122.4 863.7 1112.5 863.9 1108.4 864.0 1108.5 864.3 1108.6 864.6 1116.0 864.8 1121.5 865.5 1120.8 866.1 1134.7 866.6 1120.8 867.2 1107.5 867.7 1119.2 868.2 1107.1 868.7 1119.3 869.2 1107.2 869.7 1115.6 870.1 1109.9 870.6 1121.0 871.1 1106.9 871.4 1120.8 872.0 1125.4 872.5 1121.0 873.0 1110.5 873.5 1120.6 874.0 1106.5 874.5 1120.6 875.0 1109.4 875.6 1108.1 876.1 1095.2 876.7 1108.0 877.4 1121.3 878.1 1107.9 878.7 1102.8 879.2 1107.8 879.8 1120.0 880.3 1106.7 880.6 1103.3 881.2 1101.1 881.8 1103.2 882.2 1118.5 882.7 1103.3 883.2 1116.1 883.7 1103.2 884.2 1113.7 884.6 1103.6 885.1 1120.9 885.6 1103.6 886.1 1121.0 886.6 1121.4 887.2 1133.8 887.7 1121.4 888.0 1123.1 888.5 1106.1 889.0 1122.8 889.5 1106.2 890.0 1120.8 890.4 1124.4 890.9 1103.8 891.4 1128.0 891.9 1107.4 892.4 1123.6 892.9 1109.5 893.3 1126.2 893.8 1102.3 894.3 1128.3 894.8 1105.1 895.3 1130.2 895.8 1102.6 896.2 1108.0 896.7 1125.9 897.2 1104.6 897.7 1122.5 898.2 1104.8 898.7 1120.3 899.1 1103.3 899.6 1127.7 900.1 1101.4 900.6 1127.9 901.1 1105.3 901.6 1122.2 902.0 1112.4 902.5 1131.1 903.0 1106.8 903.5 1131.2 904.0 1107.9 904.5 1130.4 904.9 1124.6 905.4 1100.6 905.9 1131.2 906.4 1100.5 906.9 1131.0 907.6 1100.5 908.2 1096.0 908.7 1100.5 909.3 1098.4 909.8 1119.1 910.2 1128.7 910.8 1133.8 911.3 1128.8 911.7 1126.7 912.2 1100.2 912.7 1123.5 913.2 1107.2 913.6 1108.7 914.1 1130.4 914.6 1107.9 915.1 1130.5 915.6 1109.4 916.1 1125.5 916.5 1103.4 917.0 1129.7 917.5 1101.6 918.0 1129.9 918.5 1101.8 919.0 1127.4 919.4 1124.5 919.9 1103.8 920.4 1131.3 920.9 1103.7 921.4 1131.1 921.9 1109.1 922.3 1124.7 922.8 1113.1 923.3 1125.7 923.8 1113.0 924.3 1125.6 924.8 1114.2 925.4 1128.1 926.0 1138.8 926.5 1128.3 927.2 1113.7 927.7 1127.0 928.1 1116.9 928.6 1134.6 929.1 1116.8 929.6 1134.8 930.1 1120.2 930.6 1134.6 931.3 1126.7 931.9 1132.2 932.4 1126.7 933.0 1114.8 933.5 1126.5 933.9 1124.8 934.4 1115.1 934.9 1126.2 935.4 1115.0 935.9 1126.2 936.4 1115.1 936.8 1115.4 937.3 1122.7 937.8 1115.0 938.3 1122.8 938.8 1114.4 939.3 1120.9 939.7 1118.3 940.2 1126.3 940.7 1114.2 941.2 1126.4 941.7 1114.6 942.2 1123.7 942.6 1124.4 943.1 1113.0 943.6 1125.9 944.1 1112.9 944.6 1125.8 945.2 1114.4 945.8 1080.8 946.4 1114.4 947.0 1112.3 947.5 1126.5 948.0 1117.6 948.4 1112.7 948.9 1126.4 949.4 1111.8 949.9 1126.5 950.4 1111.9 950.9 1125.1 951.3 1129.4 951.8 1116.8 952.3 1131.4 952.8 1116.7 953.3 1129.7 953.8 1117.0 954.2 1118.8 954.7 1127.8 955.2 1118.5 955.7 1128.7 956.2 1118.6 956.7 1126.4 957.1 1115.9 957.6 1127.1 958.1 1111.6 958.6 1127.1 959.1 1111.7 959.6 1122.1 960.0 1129.2 960.5 1138.9 961.1 1129.2 961.5 1118.1 962.0 1127.3 962.5 1120.1 962.9 1133.1 963.4 1116.9 963.9 1133.2 964.4 1117.2 964.9 1133.1 965.4 1118.1 965.8 1124.5 966.3 1133.4 966.8 1120.9 967.3 1134.2 967.8 1123.3 968.3 1133.1 968.7 1116.6 969.2 1132.4 969.7 1115.0 970.2 1131.1 970.7 1115.1 971.2 1131.5 971.6 1130.7 972.1 1119.6 972.6 1130.8 973.1 1120.7 973.6 1130.8 974.3 1128.9 974.9 1137.2 975.4 1128.7 976.0 1110.2 976.5 1128.8 977.0 1110.5 977.4 1117.0 977.9 1130.0 978.4 1115.7 978.9 1130.9 979.4 1115.8 979.9 1129.3 980.3 1119.6 980.8 1126.9 981.3 1119.6 981.8 1127.0 982.3 1119.6 982.8 1126.9 983.2 1112.4 983.7 1130.4 984.4 1116.5 984.9 1100.2 985.5 1116.6 986.1 1126.6 986.6 1115.8 987.1 1130.3 987.6 1114.2 988.1 1129.9 988.6 1116.7 989.0 1123.7 989.5 1117.4 990.0 1127.1 990.5 1119.0 991.0 1127.0 991.5 1117.5 991.9 1126.5 992.4 1117.2 992.9 1126.5 993.4 1117.1 993.7 1125.7 994.3 1131.3 994.8 1125.8 995.3 1111.4 995.8 1128.3 996.3 1111.2 996.8 1131.0 997.3 1111.9 997.7 1116.7 998.2 1125.9 998.7 1115.4 999.2 1124.7 999.7 1113.7 1000.2 1125.2 1000.6 1123.0 1001.1 1113.2 1001.6 1128.3 1002.1 1113.1 1002.6 1128.2 1003.1 1117.8 1003.5 1123.1 1003.9 1115.4 1004.2 1118.2 1004.5 1125.5 1004.8 1116.8 1005.0 1112.0 1005.1 1115.2 1005.4 1122.7 1005.7 1117.2 1006.0 1110.6 1006.3 1110.0 1006.4 1109.8 1006.6 1113.4 1006.9 1119.4 1007.2 1111.2 1007.4 1105.8 1007.8 1114.2 1008.1 1108.6 1008.4 1100.8 1008.7 1108.1 1008.9 1111.0 1009.0 1110.0 1009.3 1107.9 1009.6 1101.9 1009.8 1097.6 1010.2 1102.7 1010.5 1098.4 1010.8 1091.2 1011.1 1092.3 1011.3 1092.6 1011.4 1088.0 1011.7 1077.9 1012.0 1077.5 1012.2 1077.8 1012.6 1059.4 1012.9 1053.0 1013.2 1050.5 1013.5 1030.4 1013.7 1019.1 1013.8 1015.8 1014.1 1005.7 1014.4 984.4 1014.7 965.3 1015.0 943.7 1015.1 935.9 1015.3 921.6 1015.6 899.6 1015.9 883.4 1016.1 875.5 1016.5 867.7 1016.8 872.6 1017.1 883.4 1017.4 903.1 1017.6 912.1 1017.7 924.0 1018.0 947.1 1018.3 966.3 1018.5 977.7 1018.9 1006.2 1019.2 1020.5 1019.5 1029.1 1019.8 1047.4 1020.0 1055.2 1020.1 1057.9 1020.4 1061.9 1020.7 1067.5 1020.9 1071.2 1021.3 1082.7 1021.6 1085.5 1021.9 1084.8 1022.2 1094.4 1022.4 1099.4 1022.5 1097.6 1022.8 1093.2 1023.1 1097.7 1023.4 1104.2 1023.7 1105.9 1023.8 1106.6 1024.0 1104.9 1024.3 1101.6 1024.6 1107.6 1024.8 1112.3 1025.2 1105.4 1025.5 1108.0 1025.8 1113.4 1026.1 1108.6 1026.3 1106.0 1026.4 1106.8 1026.7 1108.2 1027.0 1100.8 1027.2 1093.8 1027.6 1097.4 1027.9 1089.4 1028.2 1078.3 1028.5 1074.9 1028.7 1072.4 1028.8 1068.9 1029.1 1063.1 1029.4 1061.8 1029.6 1063.6 1030.0 1068.2 1030.3 1075.7 1030.6 1087.5 1030.9 1090.3 1031.1 1090.3 1031.5 1107.7 1031.8 1109.7 1032.1 1107.7 1032.4 1113.6 1032.5 1115.8 1032.7 1113.3 1033.0 1108.2 1033.3 1116.8 1033.5 1123.4 1033.9 1113.1 1034.2 1116.4 1034.5 1123.7 1034.8 1115.0 1035.0 1110.6 1035.1 1111.6 1035.4 1113.5 1035.7 1119.9 1035.9 1125.1 1036.4 1112.2 1036.9 1125.2 1037.4 1113.3 1037.9 1124.0 1038.3 1115.5 1038.8 1122.7 1039.3 1112.0 1039.8 1124.2 1040.3 1112.0 1040.8 1120.5 1041.2 1123.7 1041.7 1112.8 1042.2 1126.5 1042.7 1112.8 1043.2 1126.4 1043.7 1116.1 1044.1 1122.8 1044.6 1116.9 1045.1 1126.2 1045.6 1116.9 1046.1 1124.7 1046.6 1117.4 1047.0 1119.2 1047.5 1133.7 1048.0 1117.8 1048.5 1128.1 1049.1 1131.3 1049.6 1128.0 1049.9 1118.5 1050.4 1126.8 1050.9 1117.1 1051.4 1127.1 1051.8 1120.1 1052.4 1116.3 1052.9 1120.0 1053.3 1119.6 1053.8 1130.6 1054.4 1120.4 1054.9 1101.2 1055.5 1120.2 1056.2 1131.5 1056.7 1120.9 1057.2 1131.5 1057.7 1121.0 1058.2 1128.9 1058.6 1130.8 1059.1 1117.5 1059.6 1136.8 1060.1 1117.5 1060.6 1135.4 1061.1 1118.1 1061.5 1115.9 1062.0 1124.8 1062.5 1115.8 1063.0 1127.0 1063.5 1115.9 1064.0 1125.0 1064.5 1125.4 1065.1 1131.3 1065.7 1125.4 1066.4 1122.9 1066.9 1114.3 1067.3 1110.4 1067.8 1122.2 1068.3 1107.5 1068.8 1122.2 1069.3 1108.2 1069.8 1117.8 1070.2 1106.5 1070.7 1114.3 1071.2 1104.9 1071.7 1115.1 1072.2 1104.3 1072.7 1113.4 1073.1 1116.9 1073.6 1104.5 1074.1 1117.0 1074.6 1101.9 1075.1 1117.0 1075.6 1103.8 1076.0 1102.9 1076.4 1113.6 1076.9 1118.7 1077.5 1113.5 1078.0 1101.7 1078.5 1113.2 1078.9 1104.4 1079.4 1114.4 1080.2 1103.0 1080.7 1083.4 1081.3 1103.1 1081.8 1104.0 1082.3 1113.6 1082.8 1102.2 1083.3 1115.2 1083.8 1102.3 1084.3 1114.0 1084.7 1099.5 1085.2 1110.5 1085.7 1097.9 1086.2 1111.4 1086.7 1097.9 1087.2 1110.4 1087.6 1097.5 1088.1 1111.5 1088.6 1099.2 1089.1 1111.6 1089.8 1111.6 1090.0 1117.6 1090.3 1126.6 1090.6 1120.5 1090.9 1110.7 1091.2 1104.0 1091.5 1098.1 1091.8 1106.3 1092.0 1110.0 1092.1 1105.8 1092.4 1097.2 1092.7 1100.2 1093.0 1103.4 1093.3 1095.7 1093.6 1097.0 1093.9 1102.0 1094.1 1104.1 1094.2 1105.0 1094.5 1106.5 1094.8 1104.1 1095.1 1100.3 1095.4 1098.3 1095.7 1096.3 1096.0 1090.8 1096.3 1083.0 1096.6 1090.3 1096.8 1094.7 1096.9 1090.0 1097.2 1077.2 1097.5 1080.2 1097.8 1086.3 1098.1 1070.4 1098.3 1064.3 1098.4 1066.0 1098.7 1069.1 1099.0 1067.0 1099.2 1065.1 1099.6 1045.6 1099.9 1041.5 1100.2 1040.9 1100.5 1020.6 1100.7 1010.8 1100.8 1008.5 1101.1 1002.5 1101.4 983.3 1101.7 967.4 1102.0 941.5 1102.3 922.0 1102.6 903.0 1102.9 872.0 1103.1 855.9 1103.2 846.0 1103.5 823.7 1103.8 801.2 1104.1 787.2 1104.4 776.6 1104.6 775.3 1104.7 776.3 1105.0 784.2 1105.3 801.8 1105.5 816.0 1105.6 824.0 1105.9 844.0 1106.2 872.6 1106.5 899.8 1106.8 919.4 1107.0 925.2 1107.1 942.1 1107.4 972.5 1107.7 983.5 1107.9 987.9 1108.3 1015.6 1108.6 1024.1 1108.9 1026.7 1109.2 1045.0 1109.4 1052.8 1109.5 1052.2 1109.8 1050.0 1110.1 1061.2 1110.4 1070.2 1110.7 1071.3 1111.0 1077.3 1111.3 1085.1 1111.6 1081.5 1111.8 1079.4 1111.9 1083.8 1112.2 1093.7 1112.5 1091.0 1112.8 1086.7 1113.1 1097.7 1113.4 1102.6 1113.7 1104.6 1114.0 1095.7 1114.2 1090.3 1114.6 1107.4 1114.9 1102.3 1115.2 1093.6 1115.5 1107.8 1115.7 1113.1 1115.8 1109.3 1116.1 1102.0 1116.4 1109.9 1116.6 1115.8 1117.0 1102.4 1117.3 1108.4 1117.6 1119.4 1117.9 1107.5 1118.1 1102.1 1118.2 1107.8 1118.5 1119.5 1118.8 1115.0 1119.1 1108.4 1119.3 1104.4 1119.9 1099.4 1120.4 1104.5 1121.0 1121.0 1121.5 1101.9 1122.0 1115.0 1122.4 1107.9 1122.9 1122.3 1123.4 1105.3 1123.9 1119.4 1124.4 1105.4 1124.9 1120.9 1125.3 1121.3 1125.8 1107.3 1126.3 1127.1 1126.8 1107.3 1127.3 1126.9 1127.8 1112.6 1128.2 1125.9 1128.7 1110.3 1129.2 1127.0 1129.7 1110.8 1130.2 1126.9 1130.7 1113.1 1131.1 1127.2 1131.6 1106.8 1132.1 1126.5 1132.6 1106.0 1133.1 1128.1 1133.6 1107.0 1134.0 1124.4 1134.5 1105.0 1135.0 1124.1 1135.5 1109.4 1136.0 1128.0 1136.5 1111.5 1136.9 1130.3 1137.4 1105.9 1137.9 1131.6 1138.4 1106.9 1138.9 1128.4 1139.4 1108.6 1139.8 1112.0 1140.3 1128.4 1140.8 1104.4 1141.3 1128.5 1141.8 1104.6 1142.3 1121.1 1142.7 1116.7 1143.2 1130.1 1143.7 1114.5 1144.2 1126.9 1144.7 1113.0 1145.2 1126.1 1145.6 1127.2 1146.1 1112.6 1146.6 1126.3 1147.1 1112.5 1147.6 1127.3 1148.1 1117.0 1148.8 1108.8 1149.4 1095.3 1149.7 1128.1 1149.9 1109.2 1150.3 1145.2 1150.8 1128.5 1151.5 1128.8 1152.0 1128.6 1152.6 1145.6 1153.1 1128.5 1153.9 1124.7 1154.3 1114.3 1154.8 1130.7 1155.3 1107.7 1155.6 1128.8 1156.2 1138.9 1156.7 1128.8 1157.1 1129.3 1157.4 1133.8 1157.7 1138.6 1158.0 1133.1 1158.2 1129.0 1158.6 1128.4 1158.7 1128.2 1158.9 1121.1 1159.2 1108.5 1159.5 1117.7 1159.7 1124.5 1160.1 1117.7 1160.4 1124.9 1160.6 1135.0 1161.0 1115.1 1161.1 1106.2 1161.3 1115.0 1161.6 1132.6 1161.9 1118.3 1162.1 1105.5 1162.5 1119.8 1162.8 1118.2 1163.0 1110.9 1163.4 1120.4 1163.5 1125.2 1163.7 1120.7 1164.0 1110.4 1164.3 1116.6 1164.5 1123.7 1164.9 1111.6 1165.2 1111.8 1165.5 1118.1 1165.8 1122.1 1165.9 1124.4 1166.4 1105.8 1166.7 1112.4 1166.9 1122.1 1167.3 1106.4 1167.4 1100.5 1167.6 1106.3 1167.9 1116.6 1168.2 1103.4 1168.4 1093.8 1168.8 1108.4 1169.1 1097.1 1169.3 1080.7 1169.7 1093.1 1169.8 1097.4 1170.0 1088.2 1170.3 1071.5 1170.6 1075.2 1170.8 1077.6 1171.2 1060.9 1171.5 1055.4 1171.7 1052.1 1172.1 1042.6 1172.2 1039.0 1172.4 1038.3 1172.7 1036.6 1173.0 1034.3 1173.2 1034.3 1173.6 1038.6 1173.9 1042.8 1174.2 1045.3 1174.5 1054.7 1174.6 1061.2 1175.1 1059.3 1175.4 1070.8 1175.6 1085.2 1176.0 1075.8 1176.1 1071.2 1176.3 1081.4 1176.6 1101.5 1176.9 1093.1 1177.1 1085.6 1177.5 1111.2 1177.8 1108.5 1178.0 1099.0 1178.4 1117.5 1178.5 1125.6 1178.7 1118.9 1179.0 1105.5 1179.3 1116.0 1179.5 1125.2 1179.9 1114.3 1180.2 1119.5 1180.4 1130.5 1180.8 1115.0 1180.9 1107.2 1181.1 1113.9 1181.4 1129.5 1181.7 1119.1 1181.9 1107.4 1182.3 1128.7 1182.6 1127.8 1182.9 1115.4 1183.2 1114.8 1183.3 1114.4 1183.5 1118.5 1183.8 1128.7 1184.1 1121.1 1184.3 1110.8 1184.7 1123.6 1184.8 1128.3 1185.0 1122.5 1185.3 1112.1 1185.6 1122.0 1185.8 1129.3 1186.2 1134.3 1186.5 1123.6 1186.7 1109.8 1187.1 1124.8 1187.2 1131.6 1187.4 1124.8 1187.7 1111.4 1188.0 1125.0 1188.2 1136.8 1188.6 1118.0 1188.9 1116.2 1189.1 1120.4 1189.6 1136.6 1190.1 1114.4 1190.6 1137.0 1191.1 1118.5 1191.6 1132.2 1192.0 1115.8 1192.5 1130.5 1193.0 1114.0 1193.5 1131.8 1194.0 1117.6 1194.5 1133.0 1194.9 1117.5 1195.4 1131.2 1195.9 1111.2 1196.4 1132.9 1196.9 1112.1 1197.4 1129.9 1197.8 1116.8 1198.3 1135.0 1198.8 1110.9 1199.3 1135.1 1199.8 1111.1 1200.3 1127.4 1200.7 1116.3 1201.2 1135.6 1201.7 1109.6 1202.2 1132.8 1202.7 1109.8 1203.2 1129.3 1203.6 1131.7 1204.1 1114.0 1204.6 1138.6 1205.1 1113.5 1205.6 1135.8 1206.1 1114.0 1206.5 1134.0 1207.0 1114.5 1207.5 1134.8 1208.0 1114.4 1208.5 1135.1 1209.0 1115.5 1209.4 1113.1 1209.9 1133.5 1210.4 1112.8 1210.9 1133.6 1211.4 1113.9 1211.8 1111.2 1212.4 1106.2 1212.7 1108.8 1213.0 1111.0 1213.3 1125.9 1213.6 1115.6 1213.8 1108.6 1214.2 1123.0 1214.5 1118.7 1214.8 1110.7 1215.1 1110.5 1215.2 1110.4 1215.4 1115.5 1215.7 1124.7 1216.0 1112.3 1216.2 1101.2 1216.6 1105.1 1216.9 1089.6 1217.2 1075.7 1217.5 1072.5 1217.7 1074.6 1217.8 1077.7 1218.1 1085.0 1218.4 1100.4 1218.6 1114.5 1219.0 1105.6 1219.3 1110.9 1219.6 1123.0 1219.9 1111.6 1220.1 1105.1 1220.2 1108.8 1220.5 1118.1 1220.8 1121.4 1221.0 1122.9 1221.4 1107.7 1221.7 1104.2 1222.0 1107.1 1222.3 1104.6 1222.5 1102.8 1223.1 1107.2 1223.5 1106.2 1223.9 1127.2 1224.4 1104.0 1224.9 1130.5 1225.4 1103.9 1225.9 1129.3 1226.4 1111.1 1227.0 1113.7 1227.6 1109.5 1228.1 1113.7 1228.8 1128.4 1229.3 1117.8 1229.7 1111.5 1230.2 1134.3 1230.7 1108.7 1231.2 1132.4 1231.7 1109.3 1232.2 1126.1 1232.6 1116.7 1233.1 1134.4 1233.6 1111.4 1234.1 1134.5 1234.6 1111.5 1235.1 1128.8 1235.5 1130.6 1236.0 1115.0 1236.5 1134.1 1237.0 1113.5 1237.5 1133.9 1238.0 1116.2 1238.4 1129.1 1238.9 1111.5 1239.4 1133.4 1239.9 1111.4 1240.4 1133.3 1240.9 1116.0 1241.3 1117.8 1241.8 1132.0 1242.3 1111.1 1242.8 1129.0 1243.3 1113.2 1243.8 1126.1 1244.2 1116.9 1244.7 1127.0 1245.2 1114.0 1245.6 1127.2 1246.2 1139.7 1246.7 1127.4 1247.1 1125.9 1247.6 1113.7 1248.1 1127.9 1248.6 1115.4 1249.1 1127.8 1249.6 1118.6 1249.9 1120.3 1250.2 1114.5 1250.5 1105.7 1250.8 1119.4 1251.0 1126.7 1251.1 1120.8 1251.4 1107.2 1251.7 1115.7 1252.0 1125.8 1252.3 1114.7 1252.5 1111.1 1252.6 1113.2 1252.9 1116.8 1253.2 1107.9 1253.4 1102.6 1253.8 1116.9 1254.1 1110.5 1254.4 1101.1 1254.7 1113.4 1254.9 1118.0 1255.0 1113.9 1255.3 1106.1 1255.6 1112.4 1255.8 1117.1 1256.2 1101.8 1256.5 1106.1 1256.8 1115.5 1257.1 1100.3 1257.3 1093.3 1257.4 1099.1 1257.7 1110.8 1258.0 1099.8 1258.3 1089.6 1258.6 1087.5 1258.9 1093.7 1259.2 1103.2 1259.5 1088.3 1259.7 1080.2 1259.8 1084.4 1260.1 1093.7 1260.4 1082.6 1260.7 1070.6 1261.0 1075.5 1261.2 1077.0 1261.3 1075.6 1261.6 1072.7 1261.9 1057.8 1262.1 1048.9 1262.2 1050.0 1262.5 1051.7 1262.8 1037.0 1263.1 1021.9 1263.4 1018.8 1263.6 1016.2 1263.7 1007.0 1264.0 990.6 1264.3 981.2 1264.5 974.9 1264.9 959.0 1265.2 952.9 1265.5 950.3 1265.8 951.3 1266.0 953.2 1266.1 956.7 1266.4 967.1 1266.7 977.2 1267.0 984.5 1267.3 997.1 1267.6 1010.5 1267.9 1025.4 1268.2 1028.4 1268.4 1028.7 1268.5 1036.8 1268.8 1056.5 1269.1 1055.5 1269.4 1049.4 1269.7 1068.5 1270.0 1078.6 1270.3 1084.9 1270.6 1082.5 1270.8 1080.8 1270.9 1084.8 1271.2 1095.1 1271.5 1093.4 1271.8 1088.9 1272.1 1099.5 1272.3 1103.4 1272.4 1100.1 1272.7 1093.8 1273.0 1100.3 1273.2 1105.2 1273.6 1098.3 1273.9 1103.7 1274.2 1112.2 1274.5 1104.8 1274.7 1101.4 1274.8 1105.6 1275.1 1114.0 1275.4 1108.7 1275.7 1103.6 1276.0 1117.9 1276.3 1113.2 1276.6 1101.2 1276.9 1114.2 1277.1 1121.2 1277.2 1116.1 1277.5 1104.4 1277.8 1112.0 1278.1 1120.8 1278.4 1107.9 1278.7 1109.5 1279.0 1119.3 1279.3 1110.5 1279.5 1105.2 1279.6 1109.3 1279.9 1120.5 1280.2 1114.5 1280.5 1105.2 1280.6 1105.8 1280.8 1106.5 1281.0 1107.2 1281.1 1105.9 1281.5 1102.0 1281.8 1104.2 1282.1 1106.7 1282.4 1123.2 1282.7 1114.2 1282.9 1109.2 1283.0 1112.8 1283.3 1121.0 1283.6 1115.0 1283.9 1108.2 1284.2 1116.8 1284.5 1119.5 1284.8 1119.4 1285.1 1109.2 1285.3 1103.1 1285.4 1107.2 1285.7 1118.6 1286.0 1112.7 1286.3 1103.5 1286.6 1114.5 1286.8 1118.6 1286.9 1113.6 1287.2 1104.3 1287.5 1103.9 1287.7 1103.9 1288.1 1111.9 1288.4 1106.0 1288.7 1096.5 1289.0 1103.1 1289.2 1106.1 1289.3 1100.9 1289.6 1090.3 1289.9 1095.6 1290.2 1100.7 1290.5 1092.3 1290.8 1082.5 1291.1 1071.6 1291.4 1078.5 1291.6 1082.0 1291.7 1073.9 1292.0 1054.6 1292.3 1057.2 1292.6 1061.3 1292.9 1040.3 1293.2 1032.7 1293.5 1028.8 1293.8 1009.8 1294.0 998.9 1294.1 996.7 1294.4 989.9 1294.7 973.9 1295.0 960.7 1295.3 952.5 1295.5 949.7 1295.6 945.1 1295.9 941.7 1296.2 943.3 1296.4 947.7 1296.8 957.5 1297.1 970.0 1297.4 984.5 1297.7 995.3 1297.9 999.5 1298.0 1007.8 1298.3 1025.0 1298.6 1033.0 1298.9 1036.7 1299.2 1049.0 1299.5 1060.6 1299.8 1072.6 1300.1 1070.2 1300.3 1068.6 1300.4 1074.4 1300.7 1087.3 1301.0 1087.2 1301.3 1084.8 1301.6 1094.9 1301.9 1097.7 1302.2 1097.0 1302.5 1094.3 1302.7 1092.6 1303.1 1104.5 1303.4 1102.4 1303.7 1097.8 1304.0 1107.3 1304.2 1110.9 1304.3 1108.1 1304.6 1102.8 1304.9 1111.1 1305.1 1117.2 1305.5 1109.6 1305.8 1114.0 1306.1 1121.4 1306.4 1111.9 1306.6 1107.6 1306.7 1112.4 1307.0 1122.2 1307.3 1116.5 1307.6 1110.8 1307.9 1108.4 1308.2 1115.4 1308.5 1126.2 1308.8 1114.4 1309.0 1108.0 1309.1 1113.3 1309.4 1125.4 1309.7 1118.0 1310.0 1109.1 1310.3 1119.2 1310.5 1122.4 1310.6 1117.8 1310.9 1110.2 1311.2 1121.2 1311.4 1127.9 1311.9 1110.6 1312.4 1127.2 1312.9 1110.7 1313.4 1124.3 1313.8 1115.6 1314.3 1125.7 1314.8 1116.8 1315.3 1125.8 1315.8 1115.2 1316.3 1124.6 1316.7 1124.7 1317.2 1118.1 1317.7 1126.2 1318.2 1118.0 1319.0 1117.8 1319.5 1102.9 1320.0 1117.7 1320.6 1116.4 1321.1 1128.5 1321.6 1116.5 1322.1 1127.7 1322.5 1122.2 1323.0 1129.6 1323.5 1120.3 1324.0 1129.6 1324.5 1121.0 1325.0 1127.6 1325.4 1119.9 1325.9 1129.4 1326.4 1116.9 1326.9 1132.2 1327.4 1119.3 1327.9 1131.0 1328.3 1120.9 1328.8 1127.8 1329.3 1120.0 1329.8 1127.9 1330.3 1118.9 1330.8 1125.4 1331.2 1127.5 1331.7 1119.7 1332.2 1127.6 1332.7 1120.2 1333.2 1127.6 1333.7 1119.9 1334.1 1120.5 1334.6 1133.7 1335.1 1116.1 1335.9 1131.2 1336.4 1138.9 1337.0 1131.2 1337.5 1139.4 1338.0 1121.8 1338.5 1139.4 1339.0 1121.9 1339.5 1135.8 1339.9 1134.1 1340.4 1118.5 1340.9 1136.4 1341.4 1119.7 1341.9 1136.7 1342.4 1120.5 1342.8 1133.8 1343.3 1123.4 1343.8 1139.5 1344.3 1119.8 1344.8 1139.4 1345.3 1121.7 1345.7 1133.2 1346.2 1120.0 1346.7 1133.9 1347.2 1119.9 1347.7 1133.8 1348.2 1122.9 1348.6 1133.1 1349.1 1123.2 1349.6 1135.4 1350.1 1123.1 1350.6 1135.3 1351.1 1134.4 1351.6 1138.9 1352.2 1134.2 1352.5 1114.3 1353.0 1136.3 1353.5 1114.4 1354.0 1132.1 1354.4 1128.9 1354.9 1120.4 1355.4 1133.6 1355.9 1119.2 1356.4 1133.6 1356.9 1120.3 1357.3 1117.5 1357.7 1128.4 1358.0 1134.6 1358.3 1139.4 1358.6 1136.2 1358.9 1131.1 1359.2 1116.0 1359.5 1118.4 1359.8 1125.4 1360.1 1116.3 1360.3 1111.5 1360.4 1110.6 1360.7 1108.4 1360.8 1107.4 1361.0 1108.2 1361.3 1109.7 1361.6 1118.5 1361.9 1116.0 1362.2 1108.1 1362.5 1113.5 1362.7 1116.1 1362.8 1116.4 1363.1 1116.7 1363.4 1106.5 1363.6 1098.5 1364.0 1108.0 1364.3 1103.1 1364.6 1094.1 1364.9 1096.3 1365.1 1096.7 1365.2 1093.2 1365.5 1086.6 1365.8 1084.7 1366.0 1083.9 1366.4 1083.3 1366.7 1084.0 1367.0 1083.8 1367.3 1088.7 1367.5 1093.4 1367.9 1092.2 1368.2 1098.0 1368.5 1106.7 1368.8 1103.3 1368.9 1101.2 1369.1 1105.6 1369.4 1115.0 1369.7 1108.4 1369.9 1102.3 1370.3 1103.2 1370.6 1102.0 1370.9 1099.7 1371.2 1101.8 1371.5 1104.5 1371.8 1106.0 1372.1 1113.9 1372.3 1120.4 1372.7 1106.6 1373.0 1107.8 1373.3 1114.3 1373.6 1103.4 1373.8 1098.0 1373.9 1099.5 1374.2 1102.0 1374.5 1099.9 1374.7 1097.3 1375.1 1089.9 1375.2 1088.1 1375.4 1088.2 1375.7 1087.5 1376.0 1085.9 1376.2 1085.8 1376.6 1089.5 1376.9 1091.7 1377.2 1092.2 1377.5 1098.9 1377.6 1102.2 1377.8 1101.5 1378.1 1098.7 1378.4 1107.5 1378.6 1115.2 1379.0 1106.8 1379.3 1112.6 1379.6 1123.2 1379.9 1115.9 1380.1 1112.1 1380.2 1110.7 1380.5 1107.6 1380.8 1105.4 1381.1 1103.5 1381.4 1107.1 1381.6 1109.5 1382.0 1125.7 1382.3 1114.6 1382.5 1108.5 1382.6 1111.8 1382.9 1120.2 1383.2 1117.7 1383.4 1113.5 1383.8 1126.3 1383.9 1130.6 1384.1 1123.1 1384.4 1110.1 1384.7 1122.6 1384.9 1131.0 1385.4 1113.5 1385.9 1125.3 1386.3 1125.7 1386.8 1114.6 1387.3 1131.1 1387.8 1117.6 1388.2 1128.5 1388.7 1137.2 1389.3 1128.6 1389.7 1114.4 1390.2 1130.1 1390.7 1113.8 1391.2 1130.2 1391.7 1117.5 1392.1 1125.1 1392.6 1110.6 1393.1 1125.8 1393.6 1107.5 1394.1 1125.7 1394.6 1112.8 1394.9 1127.1 1395.5 1133.9 1396.0 1127.1 1396.5 1113.7 1397.0 1124.1 1397.5 1113.8 1397.9 1124.9 1398.4 1110.3 1398.9 1128.9 1399.4 1110.9 1399.9 1128.8 1400.4 1114.9 1400.8 1112.0 1401.3 1126.2 1401.8 1111.0 1402.4 1109.0 1403.0 1096.0 1403.5 1108.9 1404.2 1108.8 1404.7 1121.7 1405.2 1109.6 1405.8 1104.4 1406.4 1102.7 1406.9 1104.4 1407.6 1106.3 1408.3 1101.0 1408.9 1099.4 1409.5 1101.1 1410.0 1108.2 1410.5 1123.8 1411.0 1108.3 1411.5 1123.7 1412.0 1111.5 1412.4 1127.8 1412.9 1115.9 1413.4 1128.4 1413.9 1115.8 1414.4 1128.3 1414.9 1118.1 1415.3 1116.4 1415.8 1127.1 1416.3 1114.8 1416.8 1124.8 1417.3 1114.9 1417.8 1126.9 1418.2 1128.6 1418.7 1121.2 1419.2 1129.4 1419.7 1121.2 1420.2 1128.2 1420.7 1122.3 1421.1 1119.0 1421.6 1129.6 1422.1 1118.1 1422.6 1127.5 1423.1 1118.1 1423.6 1128.4 1424.0 1119.3 1424.5 1134.1 1425.0 1118.6 1425.5 1134.2 1426.0 1118.7 1426.5 1131.0 1426.9 1122.1 1427.4 1134.4 1427.9 1119.5 1428.4 1134.5 1428.9 1119.0 1429.4 1121.6 1430.0 1109.5 1430.5 1121.6 1431.3 1131.5 1431.7 1125.5 1432.0 1126.2 1432.3 1130.5 1432.6 1129.6 1432.7 1129.0 1433.2 1120.4 1433.5 1125.0 1433.7 1131.3 1434.1 1122.1 1434.2 1118.7 1434.4 1122.9 1434.7 1130.4 1435.0 1130.5 1435.3 1130.1 1435.4 1130.0 1435.6 1132.3 1435.9 1136.4 1436.2 1134.1 1436.5 1129.6 1436.8 1130.1 1437.1 1131.1 1437.4 1124.6 1437.6 1119.4 1438.0 1126.3 1438.3 1126.7 1438.5 1124.8 1438.9 1117.9 1439.0 1114.4 1439.2 1117.6 1439.5 1124.8 1439.8 1119.2 1440.0 1112.9 1440.4 1121.9 1440.7 1121.0 1441.0 1114.9 1441.3 1117.5 1441.4 1119.1 1441.9 1108.3 1442.2 1111.2 1442.4 1116.0 1442.8 1106.3 1442.9 1102.7 1443.1 1105.8 1443.4 1111.2 1443.7 1104.7 1443.9 1099.9 1444.3 1104.9 1444.6 1100.3 1444.8 1093.7 1445.2 1097.2 1445.3 1098.3 1445.5 1093.8 1445.8 1085.2 1446.1 1085.4 1446.3 1085.7 1446.7 1076.3 1447.0 1072.4 1447.2 1069.9 1447.6 1060.4 1447.7 1056.1 1447.9 1055.7 1448.2 1054.4 1448.5 1047.9 1448.7 1043.1 1449.1 1041.7 1449.4 1038.8 1449.7 1036.7 1449.9 1036.3 1450.1 1036.4 1450.6 1039.5 1450.9 1041.6 1451.1 1042.9 1451.5 1050.1 1451.6 1053.3 1451.8 1054.4 1452.1 1055.7 1452.4 1063.2 1452.6 1068.8 1453.0 1074.6 1453.3 1075.4 1453.5 1074.3 1453.9 1085.1 1454.0 1090.1 1454.2 1088.6 1454.5 1084.6 1454.8 1094.0 1455.0 1102.2 1455.4 1096.6 1455.7 1100.8 1455.9 1108.7 1456.3 1101.2 1456.4 1097.3 1456.6 1103.9 1456.9 1118.6 1457.2 1111.1 1457.4 1101.9 1457.8 1119.5 1457.9 1124.8 1458.1 1120.2 1458.4 1112.6 1458.7 1121.8 1458.8 1127.3 1459.0 1123.6 1459.3 1113.9 1459.6 1121.1 1459.8 1130.9 1460.2 1118.4 1460.3 1113.8 1460.5 1119.3 1460.8 1129.4 1461.1 1123.1 1461.3 1118.4 1461.7 1113.8 1462.0 1117.2 1462.2 1122.5 1462.6 1114.6 1462.7 1111.2 1462.9 1115.1 1463.2 1123.1 1463.5 1117.3 1463.7 1112.1 1464.1 1121.2 1464.4 1119.6 1464.6 1114.3 1465.0 1122.6 1465.1 1126.8 1465.3 1123.5 1465.6 1115.9 1465.9 1121.9 1466.1 1128.5 1466.5 1118.4 1466.8 1120.2 1467.1 1128.3 1467.4 1126.9 1467.5 1126.1 1467.7 1123.8 1468.0 1117.9 1468.5 1128.6 1469.0 1116.7 1469.5 1128.5 1470.0 1120.5 1470.4 1119.7 1470.9 1129.8 1471.4 1114.4 1471.9 1128.4 1472.4 1114.5 1472.9 1128.6 1473.3 1127.2 1473.8 1115.1 1474.3 1130.0 1474.8 1116.7 1475.3 1130.8 1476.0 1116.2 1476.5 1102.8 1477.0 1116.1 1477.7 1128.0 1478.2 1112.2 1478.7 1122.4 1479.1 1125.0 1479.6 1114.6 1480.1 1128.9 1480.6 1116.7 1481.1 1130.4 1481.6 1118.7 1482.0 1130.2 1482.5 1112.2 1483.0 1133.2 1483.5 1112.2 1484.0 1133.0 1484.5 1118.4 1484.9 1117.2 1485.4 1130.8 1485.9 1116.9 1486.4 1130.0 1486.9 1116.2 1487.5 1102.8 1488.0 1116.0 1488.3 1128.4 1488.8 1114.6 1489.3 1125.9 1489.8 1113.9 1490.3 1127.7 1490.7 1120.6 1491.2 1126.9 1491.7 1118.7 1492.2 1128.2 1492.7 1118.2 1493.2 1126.8 1493.6 1131.7 1494.1 1116.4 1494.6 1133.4 1495.1 1113.2 1495.6 1134.1 1496.1 1117.9 1496.5 1112.1 1497.0 1124.0 1497.5 1110.6 1498.0 1125.9 1498.5 1110.7 1499.0 1124.0 1499.4 1113.1 1499.9 1120.3 1500.4 1112.7 1500.9 1120.4 1501.4 1111.1 1501.9 1117.8 1502.3 1107.3 1503.0 1120.2 1503.5 1138.8 1504.1 1120.5 1504.8 1116.8 1505.2 1111.9 1505.7 1098.7 1506.2 1117.4 1506.7 1098.6 1507.2 1117.2 1507.7 1100.9 1508.0 1116.7 1508.6 1132.1 1509.2 1117.0 1509.6 1115.8 1510.1 1104.3 1510.6 1112.3 1511.0 1103.0 1511.5 1116.8 1512.0 1100.4 1512.5 1116.9 1513.1 1115.0 1513.7 1123.7 1514.2 1115.1 1514.9 1097.6 1515.6 1094.3 1516.1 1092.6 1516.7 1094.3 1517.3 1091.9 1517.8 1107.0 1518.3 1092.0 1519.0 1084.2 1519.5 1082.5 1520.1 1084.2 1520.7 1107.9 1521.5 1097.7 1522.0 1096.0 1522.6 1097.7 1523.1 1107.1 1523.6 1116.2 1524.1 1107.2 1524.6 1117.7 1525.1 1108.8 1525.5 1113.7 1526.0 1125.9 1526.5 1109.3 1527.0 1126.0 1527.5 1109.4 1528.0 1120.4 1528.4 1116.4 1528.9 1133.5 1529.4 1113.5 1529.9 1129.9 1530.4 1113.5 1530.9 1128.0 1531.3 1123.1 1531.7 1130.8 1532.2 1138.9 1532.8 1130.6 1533.3 1118.9 1533.8 1127.8 1534.2 1139.3 1534.7 1117.8 1535.2 1139.5 1535.7 1117.6 1536.2 1139.4 1536.7 1119.5 1537.2 1106.1 1537.8 1119.5 1538.1 1133.4 1538.6 1118.3 1539.1 1133.3 1539.6 1119.5 1540.0 1131.7 1540.5 1120.1 1541.0 1133.2 1541.5 1120.0 1542.0 1133.1 1542.5 1121.3 1542.9 1127.4 1543.4 1116.7 1543.9 1131.5 1544.4 1116.6 1544.9 1129.5 1545.4 1119.2 1545.8 1127.3 1546.3 1119.3 1546.8 1129.7 1547.3 1121.2 1547.8 1129.6 1548.3 1120.7 1548.7 1121.6 1549.2 1132.1 1549.7 1120.7 1550.2 1131.0 1550.7 1122.3 1551.2 1129.4 1551.9 1128.4 1552.5 1137.2 1553.0 1128.4 1553.6 1130.8 1554.1 1117.2 1554.4 1114.5 1554.9 1109.5 1555.5 1114.6 1556.0 1112.4 1556.5 1125.8 1557.0 1114.8 1557.4 1109.5 1558.0 1089.4 1558.5 1109.6 1558.9 1105.8 1559.4 1127.7 1559.9 1111.2 1560.3 1104.5 1560.8 1102.7 1561.4 1104.4 1561.8 1101.8 1562.3 1123.9 1562.8 1101.2 1563.4 1099.4 1563.9 1101.1 1564.7 1108.4 1565.2 1128.3 1565.7 1114.3 1566.1 1126.5 1566.6 1116.7 1567.1 1128.3 1567.6 1116.7 1568.1 1128.8 1568.6 1118.5 1569.0 1118.4 1569.5 1130.8 1570.0 1116.8 1570.5 1129.6 1571.0 1144.8 1571.6 1129.5 1571.9 1123.5 1572.4 1138.0 1572.9 1120.2 1573.4 1138.0 1573.9 1120.3 1574.4 1137.2 1574.8 1134.2 1575.5 1133.4 1576.1 1138.9 1576.6 1133.4 1577.3 1118.8 1577.7 1123.9 1578.2 1136.8 1578.7 1119.2 1579.2 1136.9 1579.7 1122.0 1580.2 1114.6 1580.8 1122.0 1581.1 1119.9 1581.6 1134.7 1582.1 1122.1 1582.6 1133.8 1583.1 1121.7 1583.5 1131.5 1584.0 1122.6 1584.5 1134.0 1585.0 1122.5 1585.5 1132.3 1586.0 1122.5 1586.4 1136.1 1586.9 1126.0 1587.4 1136.6 1587.9 1125.9 1588.4 1136.5 1588.9 1126.4 1589.3 1132.4 1589.8 1120.8 1590.3 1135.2 1590.7 1135.3 1591.2 1149.8 1591.8 1135.2 1592.2 1133.9 1592.7 1122.4 1593.2 1137.0 1593.7 1124.3 1594.2 1136.9 1594.7 1125.5 1595.1 1135.6 1595.6 1123.1 1596.1 1133.7 1596.6 1121.7 1597.1 1136.3 1597.6 1125.1 1598.0 1134.6 1598.5 1118.3 1599.0 1135.2 1599.5 1118.2 1600.0 1132.6 1600.5 1122.3 1600.9 1115.3 1601.4 1126.3 1601.9 1112.9 1602.4 1126.3 1602.9 1112.9 1603.3 1115.7 1603.8 1107.8 1604.4 1115.7 1604.8 1113.4 1605.3 1127.4 1605.8 1113.5 1606.3 1124.0 1606.7 1124.6 1607.3 1130.5 1607.8 1124.6 1608.2 1124.3 1608.7 1116.8 1609.2 1124.6 1609.8 1135.5 1610.3 1124.6 1611.1 1115.1 1611.7 1114.6 1612.3 1109.5 1612.8 1114.5 1613.5 1114.8 1614.2 1102.0 1614.8 1100.2 1615.3 1101.9 1615.9 1118.5 1616.4 1108.3 1616.9 1119.0 1617.6 1114.0 1618.2 1109.5 1618.7 1114.0 1619.3 1112.9 1619.8 1126.6 1620.3 1115.1 1620.8 1125.1 1621.2 1123.7 1621.7 1114.3 1622.2 1127.7 1622.7 1113.8 1623.2 1127.8 1623.7 1113.9 1624.1 1117.2 1624.6 1126.9 1625.1 1112.4 1625.6 1126.9 1626.1 1114.4 1626.6 1126.3 1627.0 1127.3 1627.5 1147.3 1628.1 1127.3 1628.5 1120.0 1629.0 1131.9 1629.5 1120.7 1629.9 1126.1 1630.4 1144.7 1630.9 1120.2 1631.4 1146.0 1631.9 1120.4 1632.4 1145.0 1632.8 1127.0 1633.3 1143.2 1633.8 1124.3 1634.3 1143.3 1634.8 1124.5 1635.3 1138.3 1635.7 1124.1 1636.2 1138.2 1636.7 1123.4 1637.2 1140.6 1637.9 1142.9 1638.5 1147.3 1639.0 1142.9 1639.6 1130.9 1640.1 1139.9 1640.6 1129.7 1641.1 1138.7 1641.5 1142.9 1642.0 1126.8 1642.5 1149.2 1643.0 1126.7 1643.5 1150.0 1644.0 1130.3 1644.4 1138.8 1644.9 1132.2 1645.4 1142.5 1645.9 1129.9 1646.4 1143.3 1646.9 1132.0 1647.3 1124.2 1647.8 1136.9 1648.3 1122.5 1648.8 1135.0 1649.3 1122.5 1649.8 1135.7 1650.2 1121.9 1650.7 1134.2 1651.2 1117.4 1651.7 1134.3 1652.2 1117.5 1652.7 1128.7 1653.1 1127.0 1653.7 1140.5 1654.2 1127.1 1654.6 1116.0 1655.1 1125.2 1655.6 1117.9 1656.1 1112.9 1656.7 1118.1 1657.0 1130.7 1657.5 1115.7 1658.1 1113.8 1658.7 1100.3 1659.2 1113.9 1659.9 1109.6 1660.4 1122.4 1660.9 1111.2 1661.5 1107.8 1662.0 1106.1 1662.6 1107.8 1663.3 1110.7 1664.0 1111.7 1664.6 1109.5 1665.1 1111.7 1665.7 1110.0 1666.2 1122.8 1666.7 1107.8 1667.2 1121.5 1667.6 1125.2 1668.3 1128.6 1668.8 1138.9 1669.4 1128.6 1670.1 1119.9 1670.5 1122.2 1671.0 1137.1 1671.7 1137.3 1672.2 1150.6 1672.8 1137.2 1673.4 1140.2 1673.9 1126.6 1674.4 1141.8 1674.9 1124.0 1675.4 1144.0 1675.8 1123.4 1676.4 1123.0 1676.9 1123.6 1677.3 1139.4 1677.8 1125.7 1678.3 1139.3 1678.8 1126.3 1679.2 1137.8 1679.7 1122.3 1680.2 1138.8 1680.7 1122.7 1681.2 1138.3 1681.7 1123.6 1682.1 1129.7 1682.6 1136.8 1683.1 1127.7 1683.5 1136.3 1684.0 1142.3 1684.6 1136.4 1685.0 1132.4 1685.5 1117.7 1686.0 1134.5 1686.5 1117.8 1687.0 1136.0 1687.5 1122.3 1687.9 1130.9 1688.5 1132.2 1689.1 1140.6 1689.6 1132.2 1690.4 1119.8 1690.8 1117.6 1691.3 1136.4 1691.9 1132.0 1692.5 1137.2 1693.0 1131.8 1693.5 1117.3 1694.1 1112.9 1694.6 1117.3 1695.2 1109.8 1695.7 1128.7 1696.1 1101.9 1696.6 1100.2 1697.2 1102.1 1697.6 1120.1 1698.1 1112.3 1698.6 1120.0 1699.1 1113.8 1699.4 1117.3 1700.0 1112.9 1700.5 1117.4 1701.0 1120.7 1701.5 1130.4 1702.0 1120.7 1702.4 1121.2 1702.9 1134.7 1703.4 1117.9 1703.9 1135.6 1704.4 1121.1 1704.9 1131.4 1705.3 1128.2 1705.8 1119.4 1706.3 1129.5 1707.1 1134.4 1707.6 1142.2 1708.2 1134.5 1708.7 1126.8 1709.2 1141.0 1709.7 1125.8 1710.5 1141.8 1711.0 1149.0 1711.5 1141.7 1712.1 1125.7 1712.6 1139.3 1713.1 1127.9 1713.6 1139.1 1714.0 1133.3 1714.5 1147.0 1715.0 1133.4 1715.5 1146.5 1716.0 1131.7 1716.5 1143.3 1716.9 1151.3 1717.4 1133.5 1717.9 1152.1 1718.4 1136.2 1718.9 1152.0 1719.4 1135.9 1719.8 1149.2 1720.3 1139.1 1720.8 1154.0 1721.3 1139.0 1721.8 1153.9 1722.3 1144.2 1722.7 1151.6 1723.2 1141.3 1723.7 1152.2 1724.2 1138.7 1724.8 1141.0 1725.3 1126.5 1725.9 1140.9 1726.6 1142.7 1727.1 1153.7 1727.6 1142.8 1728.1 1151.6 1728.5 1144.8 1729.0 1154.7 1729.5 1140.5 1730.0 1154.8 1730.5 1140.6 1731.0 1151.7 1731.4 1151.1 1731.9 1145.3 1732.4 1154.2 1732.9 1145.3 1733.4 1154.2 1733.9 1148.0 1734.3 1153.6 1734.8 1142.4 1735.3 1154.9 1735.8 1143.1 1736.3 1154.8 1736.8 1144.4 1737.2 1152.4 1737.7 1146.0 1738.2 1154.4 1738.7 1145.2 1739.2 1154.3 1739.7 1147.3 1740.1 1155.6 1740.9 1154.2 1741.4 1159.1 1742.0 1154.2 1742.6 1144.9 1743.0 1158.0 1743.5 1144.6 1744.0 1158.0 1744.5 1143.4 1745.0 1156.9 1745.5 1145.3 1745.9 1153.4 1746.4 1144.2 1746.9 1158.2 1747.4 1142.5 1747.9 1157.3 1748.4 1146.5 1748.8 1144.3 1749.3 1153.2 1749.8 1141.9 1750.3 1154.4 1750.8 1142.4 1751.3 1152.9 1751.7 1144.6 1752.2 1154.7 1752.7 1144.2 1753.2 1156.3 1753.7 1146.5 1754.2 1153.1 1754.6 1154.4 1755.1 1141.3 1755.7 1132.3 1756.2 1141.2 1756.6 1156.8 1757.1 1142.3 1757.5 1138.9 1758.0 1148.1 1758.5 1138.5 1759.0 1148.2 1759.4 1148.8 1760.0 1159.1 1760.5 1148.7 1760.9 1144.7 1761.4 1132.5 1762.0 1144.5 1762.5 1162.4 1763.0 1144.2 1763.6 1117.9 1764.1 1116.2 1764.7 1117.9 1765.3 1121.1 1765.8 1136.0 1766.1 1116.4 1766.7 1102.8 1767.2 1116.7 1767.7 1132.7 1768.2 1119.8 1768.6 1114.5 1769.2 1112.9 1769.7 1114.6 1770.3 1117.9 1770.9 1116.2 1771.4 1117.9 1772.0 1129.4 1772.5 1145.5 1773.0 1126.8 1773.7 1131.4 1774.2 1126.4 1774.8 1131.6 1775.4 1151.7 1775.9 1129.1 1776.4 1151.8 1776.9 1129.2 1777.4 1147.8 1778.0 1150.9 1778.5 1159.2 1779.1 1150.9 1779.8 1132.5 1780.3 1151.0 1780.7 1137.9 1781.2 1150.4 1781.7 1132.4 1782.2 1147.4 1782.7 1132.5 1783.2 1149.5 1783.6 1141.5 1784.1 1153.6 1784.6 1137.9 1785.1 1157.4 1785.6 1136.6 1786.1 1152.3 1786.5 1141.5 1787.0 1157.7 1787.5 1137.5 1788.0 1157.8 1788.5 1139.0 1789.0 1150.8 1789.4 1152.9 1789.9 1140.9 1790.4 1158.4 1790.9 1140.8 1791.4 1158.4 1791.9 1146.1 1792.3 1156.2 1792.8 1145.8 1793.3 1159.2 1793.8 1143.3" stroke="#000" stroke-width="2.5"/>
</g>
<rect x="257.7" y="55.0" width="1536.7" height="1143.6" fill="none" stroke="#000" stroke-width="3.7"/>
<path d="M353.7 1198.6 v-12.6 M449.8 1198.6 v-23.6 M545.8 1198.6 v-12.6 M641.9 1198.6 v-23.6 M737.9 1198.6 v-12.6 M834.0 1198.6 v-23.6 M930.0 1198.6 v-12.6 M1026.0 1198.6 v-23.6 M1122.1 1198.6 v-12.6 M1218.1 1198.6 v-23.6 M1314.2 1198.6 v-12.6 M1410.2 1198.6 v-23.6 M1506.3 1198.6 v-12.6 M1602.3 1198.6 v-23.6 M1698.4 1198.6 v-12.6 M257.7 1094.6 h23.6 M257.7 990.7 h12.6 M257.7 886.7 h23.6 M257.7 782.7 h12.6 M257.7 678.8 h23.6 M257.7 574.8 h12.6 M257.7 470.9 h23.6 M257.7 366.9 h12.6 M257.7 262.9 h23.6 M257.7 159.0 h12.6" fill="none" stroke="#000" stroke-width="3.2"/>
<g font-family="'Liberation Serif', serif" fill="#000" stroke="#fff" stroke-width="0.9" stroke-linejoin="round">
<g font-size="60.2" text-anchor="middle">
<text x="257.7" y="1268.6">10</text>
<text x="449.8" y="1268.6">20</text>
<text x="641.9" y="1268.6">30</text>
<text x="834.0" y="1268.6">40</text>
<text x="1026.0" y="1268.6">50</text>
<text x="1218.1" y="1268.6">60</text>
<text x="1410.2" y="1268.6">70</text>
<text x="1602.3" y="1268.6">80</text>
<text x="1794.4" y="1268.6">90</text>
</g>
<g font-size="60.2" text-anchor="end">
<text x="233.3" y="1112.0">500</text>
<text x="233.3" y="904.1">1000</text>
<text x="233.3" y="696.2">1500</text>
<text x="233.3" y="488.3">2000</text>
<text x="233.3" y="280.3">2500</text>
<text x="233.3" y="72.4">3000</text>
</g>
<text transform="translate(1026.3 1348.2) scale(1 1.035)" font-size="65" text-anchor="middle">2θ/(°)</text>
<text transform="translate(68.2 627.4) rotate(-90) scale(1 1.05)" font-size="64.7" text-anchor="middle">Diffraction intensity/cps</text>
<g font-size="48.35" word-spacing="0.6" stroke-width="0.45">
<text transform="translate(1004.3 183.5) scale(1 1.05)">-Hematite (Fe<tspan font-size="29.5" dy="15.9" stroke="none">2</tspan><tspan dy="-15.9">O</tspan><tspan font-size="29.5" dy="15.9" stroke="none">3</tspan><tspan dy="-15.9">)</tspan></text>
<text transform="translate(999.8 257.0) scale(1 1.05)">-Quartz (SiO<tspan font-size="29.5" dy="15.9" stroke="none">2</tspan><tspan dy="-15.9">)</tspan></text>
<text transform="translate(999.8 331.2) scale(1 1.05)">-Apatite (Ca<tspan font-size="29.5" dy="15.9" stroke="none">5</tspan><tspan dy="-15.9">[PO</tspan><tspan font-size="29.5" dy="15.9" stroke="none">4</tspan><tspan dy="-15.9">]</tspan><tspan font-size="29.5" dy="15.9" stroke="none">3</tspan><tspan dy="-15.9">(F, Cl, OH))</tspan></text>
<text transform="translate(999.8 404.5) scale(1 1.05)">-Kaolinite (Al<tspan font-size="29.5" dy="15.9" stroke="none">2</tspan><tspan dy="-15.9">Si</tspan><tspan font-size="29.5" dy="15.9" stroke="none">2</tspan><tspan dy="-15.9">O</tspan><tspan font-size="29.5" dy="15.9" stroke="none">5</tspan><tspan dy="-15.9">(OH)</tspan><tspan font-size="29.5" dy="15.9" stroke="none">4</tspan><tspan dy="-15.9">)</tspan></text>
<text transform="translate(1004.3 479.0) scale(1 1.05)">-Chlorite ((Mg, Fe, Al)<tspan font-size="29.5" dy="15.9" stroke="none">3</tspan><tspan dy="-15.9">[(Si, Al)</tspan><tspan font-size="29.5" dy="15.9" stroke="none">4</tspan><tspan dy="-15.9">O</tspan><tspan font-size="29.5" dy="15.9" stroke="none">10</tspan><tspan dy="-15.9">]</tspan><tspan font-size="36" dx="1" dy="-3.3">·</tspan></text>
<text transform="translate(956.6 553.4) scale(1 1.05)">(OH)<tspan font-size="29.5" dy="15.9" stroke="none">2</tspan><tspan font-size="36" dx="1" dy="-19.2">·</tspan><tspan dx="1.6" dy="3.3">(Mg, Fe, Al)</tspan><tspan font-size="29.5" dy="15.9" stroke="none">3</tspan><tspan dy="-15.9">(OH)</tspan><tspan font-size="29.5" dy="15.9" stroke="none">6</tspan><tspan dy="-15.9">)</tspan></text>
</g>
</g>
<path d="M979.8 148.3 L996.5 165.0 L979.8 181.7 L963.0999999999999 165.0 Z" fill="#fff" stroke="#000" stroke-width="2.6" stroke-linejoin="miter"/><path d="M979.8 157.0 L987.8 165.0 L979.8 173.0 L971.8 165.0 Z" fill="#000"/>
<circle cx="977.2" cy="238.7" r="13.2" fill="#fff" stroke="#000" stroke-width="9.0"/>
<polygon points="977.7,296.0 994.4,308.2 988.0,327.8 967.4,327.8 961.0,308.2" fill="#000"/>
<path d="M977.5 368.8 L994.7 386.0 L977.5 403.2 L960.3 386.0 Z" fill="#000"/>
<path d="M979.3 446.3 L998.8 479.3 L959.8 479.3 Z" fill="#000"/>
<path d="M532.5 776.2 L550.9 794.6 L532.5 813.0 L514.1 794.6 Z" fill="#fff" stroke="#000" stroke-width="3.0" stroke-linejoin="miter"/><path d="M532.5 786.0 L541.1 794.6 L532.5 803.2 L523.9 794.6 Z" fill="#000"/>
<path d="M704.6 81.69999999999999 L723.0 100.1 L704.6 118.5 L686.2 100.1 Z" fill="#fff" stroke="#000" stroke-width="3.0" stroke-linejoin="miter"/><path d="M704.6 91.5 L713.2 100.1 L704.6 108.69999999999999 L696.0 100.1 Z" fill="#000"/>
<path d="M750.2 480.6 L768.6 499 L750.2 517.4 L731.8000000000001 499 Z" fill="#fff" stroke="#000" stroke-width="3.0" stroke-linejoin="miter"/><path d="M750.2 490.4 L758.8000000000001 499 L750.2 507.6 L741.6 499 Z" fill="#000"/>
<path d="M854.8 880.5 L873.1999999999999 898.9 L854.8 917.3 L836.4 898.9 Z" fill="#fff" stroke="#000" stroke-width="3.0" stroke-linejoin="miter"/><path d="M854.8 890.3 L863.4 898.9 L854.8 907.5 L846.1999999999999 898.9 Z" fill="#000"/>
<path d="M1015.6 819.1 L1034.0 837.5 L1015.6 855.9 L997.2 837.5 Z" fill="#fff" stroke="#000" stroke-width="3.0" stroke-linejoin="miter"/><path d="M1015.6 828.9 L1024.2 837.5 L1015.6 846.1 L1007.0 837.5 Z" fill="#000"/>
<path d="M1106 730.8000000000001 L1124.4 749.2 L1106 767.6 L1087.6 749.2 Z" fill="#fff" stroke="#000" stroke-width="3.0" stroke-linejoin="miter"/><path d="M1106 740.6 L1114.6 749.2 L1106 757.8000000000001 L1097.4 749.2 Z" fill="#000"/>
<path d="M1174.9 984.6 L1193.3000000000002 1003 L1174.9 1021.4 L1156.5 1003 Z" fill="#fff" stroke="#000" stroke-width="3.0" stroke-linejoin="miter"/><path d="M1174.9 994.4 L1183.5 1003 L1174.9 1011.6 L1166.3000000000002 1003 Z" fill="#000"/>
<path d="M1265.4 902.9 L1283.8000000000002 921.3 L1265.4 939.6999999999999 L1247.0 921.3 Z" fill="#fff" stroke="#000" stroke-width="3.0" stroke-linejoin="miter"/><path d="M1265.4 912.6999999999999 L1274.0 921.3 L1265.4 929.9 L1256.8000000000002 921.3 Z" fill="#000"/>
<path d="M1297 878.5 L1315.4 896.9 L1297 915.3 L1278.6 896.9 Z" fill="#fff" stroke="#000" stroke-width="3.0" stroke-linejoin="miter"/><path d="M1297 888.3 L1305.6 896.9 L1297 905.5 L1288.4 896.9 Z" fill="#000"/>
<circle cx="468.6" cy="975.6" r="14.2" fill="#fff" stroke="#000" stroke-width="9.6"/>
<circle cx="579.0" cy="510.8" r="14.2" fill="#fff" stroke="#000" stroke-width="9.6"/>
<polygon points="681.3,919.1 698.4,931.5 691.9,951.7 670.7,951.7 664.2,931.5" fill="#000"/>
<polygon points="879.5,1055.6 896.6,1068.0 890.1,1088.2 868.9,1088.2 862.4,1068.0" fill="#000"/>
<path d="M305 1021.1 L323.6 1039.7 L305 1058.3 L286.4 1039.7 Z" fill="#000"/>
<path d="M1450.9 986.9 L1469.5 1005.5 L1450.9 1024.1 L1432.3000000000002 1005.5 Z" fill="#000"/>
<path d="M1219.2 1033.75 L1236.2 1062.25 L1202.2 1062.25 Z" fill="#000"/>
</g>
</svg>
</body>
</html>
